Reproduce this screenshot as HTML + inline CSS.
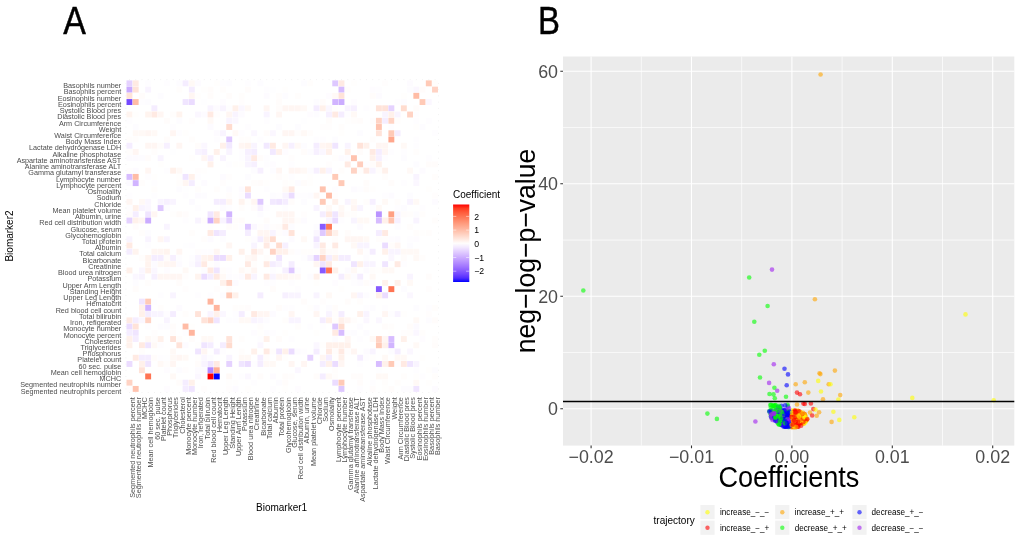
<!DOCTYPE html>
<html lang="en"><head><meta charset="utf-8"><title>Biomarker coefficients</title>
<style>html,body{margin:0;padding:0;background:#fff}body{width:1020px;height:546px;overflow:hidden}svg{display:block}text{font-family:"Liberation Sans",sans-serif}.t{font-size:7.24px;fill:#4d4d4d}.g{fill:#4d4d4d}.k{fill:#000}</style></head><body>
<svg width="1020" height="546" viewBox="0 0 1020 546">
<rect width="1020" height="546" fill="#fff"/>
<g id="panelA">
<text class="k" stroke="#000" stroke-width="0.45" transform="translate(63.3,33.8) scale(0.872,1)" font-size="38.9">A</text>
<g>
<rect x="126.50" y="80.40" width="5.9" height="5.9" fill="#e5d2ff"/>
<rect x="132.74" y="80.40" width="5.9" height="5.9" fill="#ffeae3"/>
<rect x="145.21" y="80.40" width="5.9" height="5.9" fill="#fefdff"/>
<rect x="163.92" y="80.40" width="5.9" height="5.9" fill="#fefdff"/>
<rect x="176.39" y="80.40" width="5.9" height="5.9" fill="#fdfcff"/>
<rect x="182.62" y="80.40" width="5.9" height="5.9" fill="#f5edff"/>
<rect x="188.86" y="80.40" width="5.9" height="5.9" fill="#fff9f6"/>
<rect x="195.10" y="80.40" width="5.9" height="5.9" fill="#fdfbff"/>
<rect x="213.80" y="80.40" width="5.9" height="5.9" fill="#fffefd"/>
<rect x="220.04" y="80.40" width="5.9" height="5.9" fill="#fefdff"/>
<rect x="226.28" y="80.40" width="5.9" height="5.9" fill="#fdfcff"/>
<rect x="244.98" y="80.40" width="5.9" height="5.9" fill="#fefdff"/>
<rect x="257.46" y="80.40" width="5.9" height="5.9" fill="#fdfcff"/>
<rect x="301.11" y="80.40" width="5.9" height="5.9" fill="#fdfcff"/>
<rect x="307.34" y="80.40" width="5.9" height="5.9" fill="#fffdfc"/>
<rect x="332.29" y="80.40" width="5.9" height="5.9" fill="#dec8ff"/>
<rect x="338.52" y="80.40" width="5.9" height="5.9" fill="#ffeae3"/>
<rect x="351.00" y="80.40" width="5.9" height="5.9" fill="#fffefd"/>
<rect x="382.18" y="80.40" width="5.9" height="5.9" fill="#fffdfd"/>
<rect x="407.12" y="80.40" width="5.9" height="5.9" fill="#fdfbff"/>
<rect x="425.83" y="80.40" width="5.9" height="5.9" fill="#ffcab7"/>
<rect x="432.06" y="80.40" width="5.9" height="5.9" fill="#fffdfc"/>
<rect x="126.50" y="86.64" width="5.9" height="5.9" fill="#cbacff"/>
<rect x="132.74" y="86.64" width="5.9" height="5.9" fill="#ffe3d9"/>
<rect x="145.21" y="86.64" width="5.9" height="5.9" fill="#f9f4ff"/>
<rect x="176.39" y="86.64" width="5.9" height="5.9" fill="#fffdfc"/>
<rect x="188.86" y="86.64" width="5.9" height="5.9" fill="#f5edff"/>
<rect x="201.33" y="86.64" width="5.9" height="5.9" fill="#fffefd"/>
<rect x="207.57" y="86.64" width="5.9" height="5.9" fill="#fffcfb"/>
<rect x="220.04" y="86.64" width="5.9" height="5.9" fill="#fffdfc"/>
<rect x="244.98" y="86.64" width="5.9" height="5.9" fill="#fffcfb"/>
<rect x="263.69" y="86.64" width="5.9" height="5.9" fill="#fefdff"/>
<rect x="269.93" y="86.64" width="5.9" height="5.9" fill="#fefeff"/>
<rect x="282.40" y="86.64" width="5.9" height="5.9" fill="#fffefd"/>
<rect x="338.52" y="86.64" width="5.9" height="5.9" fill="#d7bcff"/>
<rect x="344.76" y="86.64" width="5.9" height="5.9" fill="#fffdfc"/>
<rect x="369.70" y="86.64" width="5.9" height="5.9" fill="#fefcff"/>
<rect x="375.94" y="86.64" width="5.9" height="5.9" fill="#fefdff"/>
<rect x="407.12" y="86.64" width="5.9" height="5.9" fill="#fdfcff"/>
<rect x="413.36" y="86.64" width="5.9" height="5.9" fill="#fbf7ff"/>
<rect x="419.59" y="86.64" width="5.9" height="5.9" fill="#fffcfb"/>
<rect x="432.06" y="86.64" width="5.9" height="5.9" fill="#ffd3c4"/>
<rect x="126.50" y="92.87" width="5.9" height="5.9" fill="#ffe3d9"/>
<rect x="138.97" y="92.87" width="5.9" height="5.9" fill="#fffcfb"/>
<rect x="157.68" y="92.87" width="5.9" height="5.9" fill="#fdfcff"/>
<rect x="188.86" y="92.87" width="5.9" height="5.9" fill="#fff6f3"/>
<rect x="195.10" y="92.87" width="5.9" height="5.9" fill="#fffefd"/>
<rect x="207.57" y="92.87" width="5.9" height="5.9" fill="#fffcfb"/>
<rect x="226.28" y="92.87" width="5.9" height="5.9" fill="#fffcfb"/>
<rect x="238.75" y="92.87" width="5.9" height="5.9" fill="#fffdfc"/>
<rect x="263.69" y="92.87" width="5.9" height="5.9" fill="#fdfbff"/>
<rect x="276.16" y="92.87" width="5.9" height="5.9" fill="#fffdfc"/>
<rect x="282.40" y="92.87" width="5.9" height="5.9" fill="#fdfcff"/>
<rect x="294.87" y="92.87" width="5.9" height="5.9" fill="#fffdfc"/>
<rect x="326.05" y="92.87" width="5.9" height="5.9" fill="#fefcff"/>
<rect x="332.29" y="92.87" width="5.9" height="5.9" fill="#fff9f6"/>
<rect x="338.52" y="92.87" width="5.9" height="5.9" fill="#ffe3d9"/>
<rect x="369.70" y="92.87" width="5.9" height="5.9" fill="#fffcfb"/>
<rect x="375.94" y="92.87" width="5.9" height="5.9" fill="#fdfbff"/>
<rect x="400.88" y="92.87" width="5.9" height="5.9" fill="#fffefd"/>
<rect x="413.36" y="92.87" width="5.9" height="5.9" fill="#ffbca6"/>
<rect x="126.50" y="99.11" width="5.9" height="5.9" fill="#7549ff"/>
<rect x="132.74" y="99.11" width="5.9" height="5.9" fill="#ffbca6"/>
<rect x="138.97" y="99.11" width="5.9" height="5.9" fill="#fefdff"/>
<rect x="145.21" y="99.11" width="5.9" height="5.9" fill="#fdfcff"/>
<rect x="182.62" y="99.11" width="5.9" height="5.9" fill="#f0e5ff"/>
<rect x="188.86" y="99.11" width="5.9" height="5.9" fill="#ebdcff"/>
<rect x="201.33" y="99.11" width="5.9" height="5.9" fill="#fefeff"/>
<rect x="220.04" y="99.11" width="5.9" height="5.9" fill="#fefcff"/>
<rect x="238.75" y="99.11" width="5.9" height="5.9" fill="#fffdfd"/>
<rect x="276.16" y="99.11" width="5.9" height="5.9" fill="#fffcfb"/>
<rect x="313.58" y="99.11" width="5.9" height="5.9" fill="#fdfcff"/>
<rect x="319.82" y="99.11" width="5.9" height="5.9" fill="#fffcfb"/>
<rect x="332.29" y="99.11" width="5.9" height="5.9" fill="#d1b4ff"/>
<rect x="338.52" y="99.11" width="5.9" height="5.9" fill="#cbacff"/>
<rect x="351.00" y="99.11" width="5.9" height="5.9" fill="#fefcff"/>
<rect x="394.65" y="99.11" width="5.9" height="5.9" fill="#fefdff"/>
<rect x="400.88" y="99.11" width="5.9" height="5.9" fill="#fdfcff"/>
<rect x="419.59" y="99.11" width="5.9" height="5.9" fill="#ffcab7"/>
<rect x="425.83" y="99.11" width="5.9" height="5.9" fill="#fbf7ff"/>
<rect x="151.44" y="105.34" width="5.9" height="5.9" fill="#f5edff"/>
<rect x="207.57" y="105.34" width="5.9" height="5.9" fill="#f9f4ff"/>
<rect x="213.80" y="105.34" width="5.9" height="5.9" fill="#fdfbff"/>
<rect x="220.04" y="105.34" width="5.9" height="5.9" fill="#f9f4ff"/>
<rect x="226.28" y="105.34" width="5.9" height="5.9" fill="#fefdff"/>
<rect x="232.51" y="105.34" width="5.9" height="5.9" fill="#fff1eb"/>
<rect x="238.75" y="105.34" width="5.9" height="5.9" fill="#fbf7ff"/>
<rect x="244.98" y="105.34" width="5.9" height="5.9" fill="#fff9f6"/>
<rect x="263.69" y="105.34" width="5.9" height="5.9" fill="#fff6f3"/>
<rect x="276.16" y="105.34" width="5.9" height="5.9" fill="#fffcfb"/>
<rect x="282.40" y="105.34" width="5.9" height="5.9" fill="#fff6f3"/>
<rect x="288.64" y="105.34" width="5.9" height="5.9" fill="#fff6f3"/>
<rect x="294.87" y="105.34" width="5.9" height="5.9" fill="#fff6f3"/>
<rect x="301.11" y="105.34" width="5.9" height="5.9" fill="#fff9f6"/>
<rect x="313.58" y="105.34" width="5.9" height="5.9" fill="#f5edff"/>
<rect x="319.82" y="105.34" width="5.9" height="5.9" fill="#fff1eb"/>
<rect x="326.05" y="105.34" width="5.9" height="5.9" fill="#fbf7ff"/>
<rect x="332.29" y="105.34" width="5.9" height="5.9" fill="#fffefd"/>
<rect x="344.76" y="105.34" width="5.9" height="5.9" fill="#f9f4ff"/>
<rect x="351.00" y="105.34" width="5.9" height="5.9" fill="#f7f0ff"/>
<rect x="363.47" y="105.34" width="5.9" height="5.9" fill="#fefdff"/>
<rect x="375.94" y="105.34" width="5.9" height="5.9" fill="#ffe3d9"/>
<rect x="382.18" y="105.34" width="5.9" height="5.9" fill="#ffe3d9"/>
<rect x="388.41" y="105.34" width="5.9" height="5.9" fill="#e5d2ff"/>
<rect x="400.88" y="105.34" width="5.9" height="5.9" fill="#ffdccf"/>
<rect x="413.36" y="105.34" width="5.9" height="5.9" fill="#fffcfb"/>
<rect x="126.50" y="111.58" width="5.9" height="5.9" fill="#fff4ef"/>
<rect x="132.74" y="111.58" width="5.9" height="5.9" fill="#fffefd"/>
<rect x="145.21" y="111.58" width="5.9" height="5.9" fill="#fff4ef"/>
<rect x="151.44" y="111.58" width="5.9" height="5.9" fill="#ffeae3"/>
<rect x="157.68" y="111.58" width="5.9" height="5.9" fill="#fff6f3"/>
<rect x="170.15" y="111.58" width="5.9" height="5.9" fill="#fffdfc"/>
<rect x="176.39" y="111.58" width="5.9" height="5.9" fill="#fff4ef"/>
<rect x="195.10" y="111.58" width="5.9" height="5.9" fill="#fbf7ff"/>
<rect x="201.33" y="111.58" width="5.9" height="5.9" fill="#fdfbff"/>
<rect x="207.57" y="111.58" width="5.9" height="5.9" fill="#ffeae3"/>
<rect x="213.80" y="111.58" width="5.9" height="5.9" fill="#fffdfd"/>
<rect x="226.28" y="111.58" width="5.9" height="5.9" fill="#fff6f3"/>
<rect x="232.51" y="111.58" width="5.9" height="5.9" fill="#f9f4ff"/>
<rect x="238.75" y="111.58" width="5.9" height="5.9" fill="#fdfbff"/>
<rect x="263.69" y="111.58" width="5.9" height="5.9" fill="#f9f4ff"/>
<rect x="276.16" y="111.58" width="5.9" height="5.9" fill="#fff6f3"/>
<rect x="307.34" y="111.58" width="5.9" height="5.9" fill="#fefcff"/>
<rect x="313.58" y="111.58" width="5.9" height="5.9" fill="#fdfcff"/>
<rect x="326.05" y="111.58" width="5.9" height="5.9" fill="#f7f0ff"/>
<rect x="332.29" y="111.58" width="5.9" height="5.9" fill="#ffeae3"/>
<rect x="338.52" y="111.58" width="5.9" height="5.9" fill="#f5edff"/>
<rect x="344.76" y="111.58" width="5.9" height="5.9" fill="#fefdff"/>
<rect x="351.00" y="111.58" width="5.9" height="5.9" fill="#fff9f6"/>
<rect x="382.18" y="111.58" width="5.9" height="5.9" fill="#f9f4ff"/>
<rect x="388.41" y="111.58" width="5.9" height="5.9" fill="#fff1eb"/>
<rect x="394.65" y="111.58" width="5.9" height="5.9" fill="#f9f4ff"/>
<rect x="407.12" y="111.58" width="5.9" height="5.9" fill="#ffd3c4"/>
<rect x="413.36" y="111.58" width="5.9" height="5.9" fill="#fefdff"/>
<rect x="126.50" y="117.82" width="5.9" height="5.9" fill="#fefdff"/>
<rect x="163.92" y="117.82" width="5.9" height="5.9" fill="#fffcfb"/>
<rect x="176.39" y="117.82" width="5.9" height="5.9" fill="#fdfcff"/>
<rect x="188.86" y="117.82" width="5.9" height="5.9" fill="#fffdfd"/>
<rect x="207.57" y="117.82" width="5.9" height="5.9" fill="#fff9f6"/>
<rect x="226.28" y="117.82" width="5.9" height="5.9" fill="#f9f4ff"/>
<rect x="232.51" y="117.82" width="5.9" height="5.9" fill="#fbf7ff"/>
<rect x="263.69" y="117.82" width="5.9" height="5.9" fill="#fefdff"/>
<rect x="301.11" y="117.82" width="5.9" height="5.9" fill="#fefeff"/>
<rect x="326.05" y="117.82" width="5.9" height="5.9" fill="#fffcfb"/>
<rect x="344.76" y="117.82" width="5.9" height="5.9" fill="#fffefd"/>
<rect x="351.00" y="117.82" width="5.9" height="5.9" fill="#fffdfc"/>
<rect x="357.23" y="117.82" width="5.9" height="5.9" fill="#fffcfb"/>
<rect x="369.70" y="117.82" width="5.9" height="5.9" fill="#fffdfd"/>
<rect x="375.94" y="117.82" width="5.9" height="5.9" fill="#ffd3c4"/>
<rect x="382.18" y="117.82" width="5.9" height="5.9" fill="#f5edff"/>
<rect x="388.41" y="117.82" width="5.9" height="5.9" fill="#ffd3c4"/>
<rect x="394.65" y="117.82" width="5.9" height="5.9" fill="#fffdfc"/>
<rect x="413.36" y="117.82" width="5.9" height="5.9" fill="#fefdff"/>
<rect x="425.83" y="117.82" width="5.9" height="5.9" fill="#fefdff"/>
<rect x="132.74" y="124.05" width="5.9" height="5.9" fill="#fdfcff"/>
<rect x="170.15" y="124.05" width="5.9" height="5.9" fill="#fefdff"/>
<rect x="207.57" y="124.05" width="5.9" height="5.9" fill="#fdfbff"/>
<rect x="226.28" y="124.05" width="5.9" height="5.9" fill="#ffdccf"/>
<rect x="244.98" y="124.05" width="5.9" height="5.9" fill="#fefdff"/>
<rect x="276.16" y="124.05" width="5.9" height="5.9" fill="#fdfcff"/>
<rect x="294.87" y="124.05" width="5.9" height="5.9" fill="#fdfcff"/>
<rect x="319.82" y="124.05" width="5.9" height="5.9" fill="#fffdfd"/>
<rect x="326.05" y="124.05" width="5.9" height="5.9" fill="#fffdfd"/>
<rect x="338.52" y="124.05" width="5.9" height="5.9" fill="#fffdfc"/>
<rect x="375.94" y="124.05" width="5.9" height="5.9" fill="#ffc3af"/>
<rect x="388.41" y="124.05" width="5.9" height="5.9" fill="#fefdff"/>
<rect x="413.36" y="124.05" width="5.9" height="5.9" fill="#fffefd"/>
<rect x="419.59" y="124.05" width="5.9" height="5.9" fill="#fdfcff"/>
<rect x="132.74" y="130.29" width="5.9" height="5.9" fill="#fff9f6"/>
<rect x="138.97" y="130.29" width="5.9" height="5.9" fill="#fff9f6"/>
<rect x="145.21" y="130.29" width="5.9" height="5.9" fill="#fff6f3"/>
<rect x="151.44" y="130.29" width="5.9" height="5.9" fill="#fff9f6"/>
<rect x="170.15" y="130.29" width="5.9" height="5.9" fill="#fff6f3"/>
<rect x="176.39" y="130.29" width="5.9" height="5.9" fill="#fefdff"/>
<rect x="182.62" y="130.29" width="5.9" height="5.9" fill="#fffefd"/>
<rect x="213.80" y="130.29" width="5.9" height="5.9" fill="#fdfbff"/>
<rect x="220.04" y="130.29" width="5.9" height="5.9" fill="#f9f4ff"/>
<rect x="232.51" y="130.29" width="5.9" height="5.9" fill="#fff9f6"/>
<rect x="238.75" y="130.29" width="5.9" height="5.9" fill="#fefdff"/>
<rect x="251.22" y="130.29" width="5.9" height="5.9" fill="#fbf7ff"/>
<rect x="263.69" y="130.29" width="5.9" height="5.9" fill="#fffcfb"/>
<rect x="269.93" y="130.29" width="5.9" height="5.9" fill="#fbf7ff"/>
<rect x="282.40" y="130.29" width="5.9" height="5.9" fill="#fff6f3"/>
<rect x="288.64" y="130.29" width="5.9" height="5.9" fill="#fff6f3"/>
<rect x="294.87" y="130.29" width="5.9" height="5.9" fill="#fffdfc"/>
<rect x="301.11" y="130.29" width="5.9" height="5.9" fill="#fff9f6"/>
<rect x="307.34" y="130.29" width="5.9" height="5.9" fill="#fffdfc"/>
<rect x="338.52" y="130.29" width="5.9" height="5.9" fill="#fffefd"/>
<rect x="357.23" y="130.29" width="5.9" height="5.9" fill="#fdfcff"/>
<rect x="375.94" y="130.29" width="5.9" height="5.9" fill="#ffe3d9"/>
<rect x="388.41" y="130.29" width="5.9" height="5.9" fill="#ffcab7"/>
<rect x="394.65" y="130.29" width="5.9" height="5.9" fill="#f5edff"/>
<rect x="432.06" y="130.29" width="5.9" height="5.9" fill="#fefdff"/>
<rect x="126.50" y="136.52" width="5.9" height="5.9" fill="#fffdfc"/>
<rect x="132.74" y="136.52" width="5.9" height="5.9" fill="#fffdfc"/>
<rect x="163.92" y="136.52" width="5.9" height="5.9" fill="#fffcfb"/>
<rect x="188.86" y="136.52" width="5.9" height="5.9" fill="#fffdfc"/>
<rect x="213.80" y="136.52" width="5.9" height="5.9" fill="#fefdff"/>
<rect x="226.28" y="136.52" width="5.9" height="5.9" fill="#dec8ff"/>
<rect x="238.75" y="136.52" width="5.9" height="5.9" fill="#fffdfc"/>
<rect x="244.98" y="136.52" width="5.9" height="5.9" fill="#fffdfc"/>
<rect x="257.46" y="136.52" width="5.9" height="5.9" fill="#fefdff"/>
<rect x="313.58" y="136.52" width="5.9" height="5.9" fill="#fefdff"/>
<rect x="319.82" y="136.52" width="5.9" height="5.9" fill="#fefdff"/>
<rect x="332.29" y="136.52" width="5.9" height="5.9" fill="#fdfcff"/>
<rect x="369.70" y="136.52" width="5.9" height="5.9" fill="#fffdfc"/>
<rect x="388.41" y="136.52" width="5.9" height="5.9" fill="#ffa78d"/>
<rect x="413.36" y="136.52" width="5.9" height="5.9" fill="#fefdff"/>
<rect x="126.50" y="142.76" width="5.9" height="5.9" fill="#f5edff"/>
<rect x="145.21" y="142.76" width="5.9" height="5.9" fill="#fff6f3"/>
<rect x="151.44" y="142.76" width="5.9" height="5.9" fill="#fff6f3"/>
<rect x="157.68" y="142.76" width="5.9" height="5.9" fill="#fffcfb"/>
<rect x="163.92" y="142.76" width="5.9" height="5.9" fill="#f7f0ff"/>
<rect x="176.39" y="142.76" width="5.9" height="5.9" fill="#fff6f3"/>
<rect x="195.10" y="142.76" width="5.9" height="5.9" fill="#fffcfb"/>
<rect x="201.33" y="142.76" width="5.9" height="5.9" fill="#fbf7ff"/>
<rect x="220.04" y="142.76" width="5.9" height="5.9" fill="#fff1eb"/>
<rect x="226.28" y="142.76" width="5.9" height="5.9" fill="#f2e9ff"/>
<rect x="238.75" y="142.76" width="5.9" height="5.9" fill="#fff6f3"/>
<rect x="244.98" y="142.76" width="5.9" height="5.9" fill="#fff4ef"/>
<rect x="251.22" y="142.76" width="5.9" height="5.9" fill="#f9f4ff"/>
<rect x="263.69" y="142.76" width="5.9" height="5.9" fill="#f2e9ff"/>
<rect x="269.93" y="142.76" width="5.9" height="5.9" fill="#ffeae3"/>
<rect x="282.40" y="142.76" width="5.9" height="5.9" fill="#fff6f3"/>
<rect x="288.64" y="142.76" width="5.9" height="5.9" fill="#f7f0ff"/>
<rect x="294.87" y="142.76" width="5.9" height="5.9" fill="#fff9f6"/>
<rect x="301.11" y="142.76" width="5.9" height="5.9" fill="#fdfcff"/>
<rect x="313.58" y="142.76" width="5.9" height="5.9" fill="#f5edff"/>
<rect x="319.82" y="142.76" width="5.9" height="5.9" fill="#fff6f3"/>
<rect x="326.05" y="142.76" width="5.9" height="5.9" fill="#fff4ef"/>
<rect x="332.29" y="142.76" width="5.9" height="5.9" fill="#f0e5ff"/>
<rect x="344.76" y="142.76" width="5.9" height="5.9" fill="#f9f4ff"/>
<rect x="357.23" y="142.76" width="5.9" height="5.9" fill="#ffe3d9"/>
<rect x="363.47" y="142.76" width="5.9" height="5.9" fill="#fff1eb"/>
<rect x="375.94" y="142.76" width="5.9" height="5.9" fill="#fff6f3"/>
<rect x="382.18" y="142.76" width="5.9" height="5.9" fill="#fff6f3"/>
<rect x="400.88" y="142.76" width="5.9" height="5.9" fill="#fff9f6"/>
<rect x="413.36" y="142.76" width="5.9" height="5.9" fill="#fefdff"/>
<rect x="126.50" y="149.00" width="5.9" height="5.9" fill="#fffdfc"/>
<rect x="132.74" y="149.00" width="5.9" height="5.9" fill="#fff6f3"/>
<rect x="151.44" y="149.00" width="5.9" height="5.9" fill="#fffdfc"/>
<rect x="170.15" y="149.00" width="5.9" height="5.9" fill="#fefeff"/>
<rect x="195.10" y="149.00" width="5.9" height="5.9" fill="#f9f4ff"/>
<rect x="201.33" y="149.00" width="5.9" height="5.9" fill="#f7f0ff"/>
<rect x="213.80" y="149.00" width="5.9" height="5.9" fill="#fff1eb"/>
<rect x="226.28" y="149.00" width="5.9" height="5.9" fill="#f9f4ff"/>
<rect x="238.75" y="149.00" width="5.9" height="5.9" fill="#fefdff"/>
<rect x="244.98" y="149.00" width="5.9" height="5.9" fill="#f7f0ff"/>
<rect x="251.22" y="149.00" width="5.9" height="5.9" fill="#f5edff"/>
<rect x="269.93" y="149.00" width="5.9" height="5.9" fill="#f2e9ff"/>
<rect x="276.16" y="149.00" width="5.9" height="5.9" fill="#fff1eb"/>
<rect x="282.40" y="149.00" width="5.9" height="5.9" fill="#fefcff"/>
<rect x="301.11" y="149.00" width="5.9" height="5.9" fill="#fffcfb"/>
<rect x="307.34" y="149.00" width="5.9" height="5.9" fill="#fdfcff"/>
<rect x="313.58" y="149.00" width="5.9" height="5.9" fill="#f7f0ff"/>
<rect x="319.82" y="149.00" width="5.9" height="5.9" fill="#fbf7ff"/>
<rect x="326.05" y="149.00" width="5.9" height="5.9" fill="#fff1eb"/>
<rect x="344.76" y="149.00" width="5.9" height="5.9" fill="#fff1eb"/>
<rect x="357.23" y="149.00" width="5.9" height="5.9" fill="#fffcfb"/>
<rect x="369.70" y="149.00" width="5.9" height="5.9" fill="#ffeae3"/>
<rect x="375.94" y="149.00" width="5.9" height="5.9" fill="#f5edff"/>
<rect x="382.18" y="149.00" width="5.9" height="5.9" fill="#fff6f3"/>
<rect x="388.41" y="149.00" width="5.9" height="5.9" fill="#fefdff"/>
<rect x="400.88" y="149.00" width="5.9" height="5.9" fill="#fefdff"/>
<rect x="413.36" y="149.00" width="5.9" height="5.9" fill="#fffdfc"/>
<rect x="126.50" y="155.23" width="5.9" height="5.9" fill="#fdfbff"/>
<rect x="132.74" y="155.23" width="5.9" height="5.9" fill="#fdfbff"/>
<rect x="138.97" y="155.23" width="5.9" height="5.9" fill="#fdfcff"/>
<rect x="145.21" y="155.23" width="5.9" height="5.9" fill="#fffcfb"/>
<rect x="157.68" y="155.23" width="5.9" height="5.9" fill="#f9f4ff"/>
<rect x="188.86" y="155.23" width="5.9" height="5.9" fill="#fffefd"/>
<rect x="201.33" y="155.23" width="5.9" height="5.9" fill="#fff6f3"/>
<rect x="207.57" y="155.23" width="5.9" height="5.9" fill="#f7f0ff"/>
<rect x="220.04" y="155.23" width="5.9" height="5.9" fill="#f9f4ff"/>
<rect x="238.75" y="155.23" width="5.9" height="5.9" fill="#fefdff"/>
<rect x="244.98" y="155.23" width="5.9" height="5.9" fill="#f9f4ff"/>
<rect x="251.22" y="155.23" width="5.9" height="5.9" fill="#ffeae3"/>
<rect x="257.46" y="155.23" width="5.9" height="5.9" fill="#fffcfb"/>
<rect x="263.69" y="155.23" width="5.9" height="5.9" fill="#fefdff"/>
<rect x="288.64" y="155.23" width="5.9" height="5.9" fill="#fffdfd"/>
<rect x="332.29" y="155.23" width="5.9" height="5.9" fill="#fffefd"/>
<rect x="338.52" y="155.23" width="5.9" height="5.9" fill="#fdfbff"/>
<rect x="344.76" y="155.23" width="5.9" height="5.9" fill="#fdfcff"/>
<rect x="351.00" y="155.23" width="5.9" height="5.9" fill="#ffc3af"/>
<rect x="369.70" y="155.23" width="5.9" height="5.9" fill="#fff1eb"/>
<rect x="375.94" y="155.23" width="5.9" height="5.9" fill="#f7f0ff"/>
<rect x="382.18" y="155.23" width="5.9" height="5.9" fill="#fefdff"/>
<rect x="400.88" y="155.23" width="5.9" height="5.9" fill="#fdfcff"/>
<rect x="425.83" y="155.23" width="5.9" height="5.9" fill="#fefdff"/>
<rect x="157.68" y="161.47" width="5.9" height="5.9" fill="#fffefd"/>
<rect x="207.57" y="161.47" width="5.9" height="5.9" fill="#fff1eb"/>
<rect x="226.28" y="161.47" width="5.9" height="5.9" fill="#fefdff"/>
<rect x="232.51" y="161.47" width="5.9" height="5.9" fill="#fffefd"/>
<rect x="238.75" y="161.47" width="5.9" height="5.9" fill="#fffefd"/>
<rect x="244.98" y="161.47" width="5.9" height="5.9" fill="#f9f4ff"/>
<rect x="251.22" y="161.47" width="5.9" height="5.9" fill="#f7f0ff"/>
<rect x="263.69" y="161.47" width="5.9" height="5.9" fill="#fefdff"/>
<rect x="269.93" y="161.47" width="5.9" height="5.9" fill="#fefcff"/>
<rect x="288.64" y="161.47" width="5.9" height="5.9" fill="#fefdff"/>
<rect x="326.05" y="161.47" width="5.9" height="5.9" fill="#fffdfd"/>
<rect x="344.76" y="161.47" width="5.9" height="5.9" fill="#ffeae3"/>
<rect x="357.23" y="161.47" width="5.9" height="5.9" fill="#ffcebe"/>
<rect x="363.47" y="161.47" width="5.9" height="5.9" fill="#fefdff"/>
<rect x="369.70" y="161.47" width="5.9" height="5.9" fill="#fffcfb"/>
<rect x="375.94" y="161.47" width="5.9" height="5.9" fill="#fff1eb"/>
<rect x="413.36" y="161.47" width="5.9" height="5.9" fill="#fdfcff"/>
<rect x="425.83" y="161.47" width="5.9" height="5.9" fill="#fffcfb"/>
<rect x="432.06" y="161.47" width="5.9" height="5.9" fill="#fffcfb"/>
<rect x="126.50" y="167.70" width="5.9" height="5.9" fill="#fffdfd"/>
<rect x="132.74" y="167.70" width="5.9" height="5.9" fill="#fdfbff"/>
<rect x="145.21" y="167.70" width="5.9" height="5.9" fill="#fff6f3"/>
<rect x="163.92" y="167.70" width="5.9" height="5.9" fill="#fefdff"/>
<rect x="170.15" y="167.70" width="5.9" height="5.9" fill="#fff1eb"/>
<rect x="176.39" y="167.70" width="5.9" height="5.9" fill="#fff9f6"/>
<rect x="195.10" y="167.70" width="5.9" height="5.9" fill="#fffdfd"/>
<rect x="201.33" y="167.70" width="5.9" height="5.9" fill="#fffefd"/>
<rect x="251.22" y="167.70" width="5.9" height="5.9" fill="#fdfcff"/>
<rect x="257.46" y="167.70" width="5.9" height="5.9" fill="#f7f0ff"/>
<rect x="269.93" y="167.70" width="5.9" height="5.9" fill="#fdfcff"/>
<rect x="276.16" y="167.70" width="5.9" height="5.9" fill="#fff6f3"/>
<rect x="288.64" y="167.70" width="5.9" height="5.9" fill="#fff6f3"/>
<rect x="294.87" y="167.70" width="5.9" height="5.9" fill="#fff6f3"/>
<rect x="301.11" y="167.70" width="5.9" height="5.9" fill="#fff9f6"/>
<rect x="307.34" y="167.70" width="5.9" height="5.9" fill="#fdfcff"/>
<rect x="313.58" y="167.70" width="5.9" height="5.9" fill="#f7f0ff"/>
<rect x="319.82" y="167.70" width="5.9" height="5.9" fill="#fff1eb"/>
<rect x="326.05" y="167.70" width="5.9" height="5.9" fill="#f9f4ff"/>
<rect x="338.52" y="167.70" width="5.9" height="5.9" fill="#fffdfc"/>
<rect x="351.00" y="167.70" width="5.9" height="5.9" fill="#ffd3c4"/>
<rect x="357.23" y="167.70" width="5.9" height="5.9" fill="#fffdfc"/>
<rect x="363.47" y="167.70" width="5.9" height="5.9" fill="#ffeae3"/>
<rect x="369.70" y="167.70" width="5.9" height="5.9" fill="#f9f4ff"/>
<rect x="375.94" y="167.70" width="5.9" height="5.9" fill="#fffdfc"/>
<rect x="382.18" y="167.70" width="5.9" height="5.9" fill="#fff1eb"/>
<rect x="407.12" y="167.70" width="5.9" height="5.9" fill="#fff9f6"/>
<rect x="419.59" y="167.70" width="5.9" height="5.9" fill="#fdfbff"/>
<rect x="126.50" y="173.94" width="5.9" height="5.9" fill="#d7bcff"/>
<rect x="132.74" y="173.94" width="5.9" height="5.9" fill="#ffbca6"/>
<rect x="145.21" y="173.94" width="5.9" height="5.9" fill="#fefdff"/>
<rect x="151.44" y="173.94" width="5.9" height="5.9" fill="#fffefd"/>
<rect x="176.39" y="173.94" width="5.9" height="5.9" fill="#fffefd"/>
<rect x="182.62" y="173.94" width="5.9" height="5.9" fill="#f0e5ff"/>
<rect x="188.86" y="173.94" width="5.9" height="5.9" fill="#fff1eb"/>
<rect x="195.10" y="173.94" width="5.9" height="5.9" fill="#fefdff"/>
<rect x="220.04" y="173.94" width="5.9" height="5.9" fill="#fdfbff"/>
<rect x="226.28" y="173.94" width="5.9" height="5.9" fill="#fffdfd"/>
<rect x="244.98" y="173.94" width="5.9" height="5.9" fill="#fdfcff"/>
<rect x="269.93" y="173.94" width="5.9" height="5.9" fill="#fffefd"/>
<rect x="276.16" y="173.94" width="5.9" height="5.9" fill="#fffcfb"/>
<rect x="282.40" y="173.94" width="5.9" height="5.9" fill="#fffefd"/>
<rect x="288.64" y="173.94" width="5.9" height="5.9" fill="#fefdff"/>
<rect x="307.34" y="173.94" width="5.9" height="5.9" fill="#fffefd"/>
<rect x="332.29" y="173.94" width="5.9" height="5.9" fill="#ffcab7"/>
<rect x="382.18" y="173.94" width="5.9" height="5.9" fill="#fffdfc"/>
<rect x="413.36" y="173.94" width="5.9" height="5.9" fill="#f9f4ff"/>
<rect x="432.06" y="173.94" width="5.9" height="5.9" fill="#fffdfc"/>
<rect x="126.50" y="180.18" width="5.9" height="5.9" fill="#fcfaff"/>
<rect x="132.74" y="180.18" width="5.9" height="5.9" fill="#d1b4ff"/>
<rect x="138.97" y="180.18" width="5.9" height="5.9" fill="#fffdfc"/>
<rect x="151.44" y="180.18" width="5.9" height="5.9" fill="#fefdff"/>
<rect x="176.39" y="180.18" width="5.9" height="5.9" fill="#fffdfc"/>
<rect x="182.62" y="180.18" width="5.9" height="5.9" fill="#fff6f3"/>
<rect x="188.86" y="180.18" width="5.9" height="5.9" fill="#f5edff"/>
<rect x="201.33" y="180.18" width="5.9" height="5.9" fill="#fdfbff"/>
<rect x="220.04" y="180.18" width="5.9" height="5.9" fill="#fffdfd"/>
<rect x="251.22" y="180.18" width="5.9" height="5.9" fill="#fffdfc"/>
<rect x="257.46" y="180.18" width="5.9" height="5.9" fill="#fffcfb"/>
<rect x="263.69" y="180.18" width="5.9" height="5.9" fill="#fffefd"/>
<rect x="282.40" y="180.18" width="5.9" height="5.9" fill="#fffdfc"/>
<rect x="288.64" y="180.18" width="5.9" height="5.9" fill="#fffefd"/>
<rect x="294.87" y="180.18" width="5.9" height="5.9" fill="#fdfcff"/>
<rect x="301.11" y="180.18" width="5.9" height="5.9" fill="#fffcfb"/>
<rect x="307.34" y="180.18" width="5.9" height="5.9" fill="#fffefd"/>
<rect x="338.52" y="180.18" width="5.9" height="5.9" fill="#ffcab7"/>
<rect x="363.47" y="180.18" width="5.9" height="5.9" fill="#fffcfb"/>
<rect x="388.41" y="180.18" width="5.9" height="5.9" fill="#fffcfb"/>
<rect x="400.88" y="180.18" width="5.9" height="5.9" fill="#fefdff"/>
<rect x="413.36" y="180.18" width="5.9" height="5.9" fill="#fbf7ff"/>
<rect x="151.44" y="186.41" width="5.9" height="5.9" fill="#fffdfc"/>
<rect x="176.39" y="186.41" width="5.9" height="5.9" fill="#fdfcff"/>
<rect x="182.62" y="186.41" width="5.9" height="5.9" fill="#fefeff"/>
<rect x="195.10" y="186.41" width="5.9" height="5.9" fill="#fffdfc"/>
<rect x="213.80" y="186.41" width="5.9" height="5.9" fill="#fffdfc"/>
<rect x="226.28" y="186.41" width="5.9" height="5.9" fill="#fdfcff"/>
<rect x="238.75" y="186.41" width="5.9" height="5.9" fill="#fdfbff"/>
<rect x="244.98" y="186.41" width="5.9" height="5.9" fill="#ffe3d9"/>
<rect x="263.69" y="186.41" width="5.9" height="5.9" fill="#fefdff"/>
<rect x="282.40" y="186.41" width="5.9" height="5.9" fill="#fff9f6"/>
<rect x="288.64" y="186.41" width="5.9" height="5.9" fill="#ffeae3"/>
<rect x="319.82" y="186.41" width="5.9" height="5.9" fill="#ffc3af"/>
<rect x="332.29" y="186.41" width="5.9" height="5.9" fill="#fefdff"/>
<rect x="351.00" y="186.41" width="5.9" height="5.9" fill="#fdfbff"/>
<rect x="357.23" y="186.41" width="5.9" height="5.9" fill="#fefdff"/>
<rect x="363.47" y="186.41" width="5.9" height="5.9" fill="#fffcfb"/>
<rect x="369.70" y="186.41" width="5.9" height="5.9" fill="#fffefd"/>
<rect x="425.83" y="186.41" width="5.9" height="5.9" fill="#fffefd"/>
<rect x="126.50" y="192.65" width="5.9" height="5.9" fill="#fefdff"/>
<rect x="151.44" y="192.65" width="5.9" height="5.9" fill="#fefdff"/>
<rect x="182.62" y="192.65" width="5.9" height="5.9" fill="#fefdff"/>
<rect x="195.10" y="192.65" width="5.9" height="5.9" fill="#fdfbff"/>
<rect x="201.33" y="192.65" width="5.9" height="5.9" fill="#fdfcff"/>
<rect x="226.28" y="192.65" width="5.9" height="5.9" fill="#fffdfc"/>
<rect x="238.75" y="192.65" width="5.9" height="5.9" fill="#fefcff"/>
<rect x="244.98" y="192.65" width="5.9" height="5.9" fill="#ebdcff"/>
<rect x="269.93" y="192.65" width="5.9" height="5.9" fill="#fdfcff"/>
<rect x="276.16" y="192.65" width="5.9" height="5.9" fill="#fefdff"/>
<rect x="282.40" y="192.65" width="5.9" height="5.9" fill="#f9f4ff"/>
<rect x="288.64" y="192.65" width="5.9" height="5.9" fill="#ebdcff"/>
<rect x="294.87" y="192.65" width="5.9" height="5.9" fill="#fefdff"/>
<rect x="301.11" y="192.65" width="5.9" height="5.9" fill="#fefdff"/>
<rect x="307.34" y="192.65" width="5.9" height="5.9" fill="#fdfcff"/>
<rect x="313.58" y="192.65" width="5.9" height="5.9" fill="#fff6f3"/>
<rect x="326.05" y="192.65" width="5.9" height="5.9" fill="#ffbca6"/>
<rect x="332.29" y="192.65" width="5.9" height="5.9" fill="#fffdfd"/>
<rect x="382.18" y="192.65" width="5.9" height="5.9" fill="#fefdff"/>
<rect x="388.41" y="192.65" width="5.9" height="5.9" fill="#fdfbff"/>
<rect x="407.12" y="192.65" width="5.9" height="5.9" fill="#fdfcff"/>
<rect x="432.06" y="192.65" width="5.9" height="5.9" fill="#fffdfd"/>
<rect x="126.50" y="198.88" width="5.9" height="5.9" fill="#fff6f3"/>
<rect x="138.97" y="198.88" width="5.9" height="5.9" fill="#fff9f6"/>
<rect x="145.21" y="198.88" width="5.9" height="5.9" fill="#fbf7ff"/>
<rect x="157.68" y="198.88" width="5.9" height="5.9" fill="#f9f4ff"/>
<rect x="163.92" y="198.88" width="5.9" height="5.9" fill="#f7f0ff"/>
<rect x="170.15" y="198.88" width="5.9" height="5.9" fill="#f9f4ff"/>
<rect x="188.86" y="198.88" width="5.9" height="5.9" fill="#fcfaff"/>
<rect x="213.80" y="198.88" width="5.9" height="5.9" fill="#f5edff"/>
<rect x="220.04" y="198.88" width="5.9" height="5.9" fill="#f5edff"/>
<rect x="226.28" y="198.88" width="5.9" height="5.9" fill="#fff6f3"/>
<rect x="238.75" y="198.88" width="5.9" height="5.9" fill="#fff4ef"/>
<rect x="244.98" y="198.88" width="5.9" height="5.9" fill="#fffefd"/>
<rect x="251.22" y="198.88" width="5.9" height="5.9" fill="#fff6f3"/>
<rect x="257.46" y="198.88" width="5.9" height="5.9" fill="#dec8ff"/>
<rect x="269.93" y="198.88" width="5.9" height="5.9" fill="#f2e9ff"/>
<rect x="276.16" y="198.88" width="5.9" height="5.9" fill="#f0e5ff"/>
<rect x="282.40" y="198.88" width="5.9" height="5.9" fill="#f5edff"/>
<rect x="288.64" y="198.88" width="5.9" height="5.9" fill="#fffcfb"/>
<rect x="301.11" y="198.88" width="5.9" height="5.9" fill="#fdfcff"/>
<rect x="319.82" y="198.88" width="5.9" height="5.9" fill="#ffcab7"/>
<rect x="332.29" y="198.88" width="5.9" height="5.9" fill="#fff1eb"/>
<rect x="344.76" y="198.88" width="5.9" height="5.9" fill="#f9f4ff"/>
<rect x="351.00" y="198.88" width="5.9" height="5.9" fill="#fff9f6"/>
<rect x="363.47" y="198.88" width="5.9" height="5.9" fill="#fffdfc"/>
<rect x="369.70" y="198.88" width="5.9" height="5.9" fill="#f7f0ff"/>
<rect x="382.18" y="198.88" width="5.9" height="5.9" fill="#fff9f6"/>
<rect x="394.65" y="198.88" width="5.9" height="5.9" fill="#fffdfc"/>
<rect x="407.12" y="198.88" width="5.9" height="5.9" fill="#f9f4ff"/>
<rect x="413.36" y="198.88" width="5.9" height="5.9" fill="#fff9f6"/>
<rect x="432.06" y="198.88" width="5.9" height="5.9" fill="#fdfbff"/>
<rect x="126.50" y="205.12" width="5.9" height="5.9" fill="#fefdff"/>
<rect x="132.74" y="205.12" width="5.9" height="5.9" fill="#fff1eb"/>
<rect x="138.97" y="205.12" width="5.9" height="5.9" fill="#f9f4ff"/>
<rect x="145.21" y="205.12" width="5.9" height="5.9" fill="#fbf7ff"/>
<rect x="157.68" y="205.12" width="5.9" height="5.9" fill="#dec8ff"/>
<rect x="163.92" y="205.12" width="5.9" height="5.9" fill="#fdfcff"/>
<rect x="195.10" y="205.12" width="5.9" height="5.9" fill="#fefdff"/>
<rect x="220.04" y="205.12" width="5.9" height="5.9" fill="#fdfbff"/>
<rect x="226.28" y="205.12" width="5.9" height="5.9" fill="#fefdff"/>
<rect x="238.75" y="205.12" width="5.9" height="5.9" fill="#fffdfc"/>
<rect x="251.22" y="205.12" width="5.9" height="5.9" fill="#fffcfc"/>
<rect x="257.46" y="205.12" width="5.9" height="5.9" fill="#f7f0ff"/>
<rect x="263.69" y="205.12" width="5.9" height="5.9" fill="#fefdff"/>
<rect x="282.40" y="205.12" width="5.9" height="5.9" fill="#fefdff"/>
<rect x="313.58" y="205.12" width="5.9" height="5.9" fill="#f9f4ff"/>
<rect x="326.05" y="205.12" width="5.9" height="5.9" fill="#fff9f6"/>
<rect x="338.52" y="205.12" width="5.9" height="5.9" fill="#fff9f6"/>
<rect x="351.00" y="205.12" width="5.9" height="5.9" fill="#fff6f3"/>
<rect x="357.23" y="205.12" width="5.9" height="5.9" fill="#f9f4ff"/>
<rect x="369.70" y="205.12" width="5.9" height="5.9" fill="#fefdff"/>
<rect x="375.94" y="205.12" width="5.9" height="5.9" fill="#fff9f6"/>
<rect x="394.65" y="205.12" width="5.9" height="5.9" fill="#fefdff"/>
<rect x="400.88" y="205.12" width="5.9" height="5.9" fill="#fdfcff"/>
<rect x="419.59" y="205.12" width="5.9" height="5.9" fill="#fefdff"/>
<rect x="126.50" y="211.36" width="5.9" height="5.9" fill="#fffcfc"/>
<rect x="132.74" y="211.36" width="5.9" height="5.9" fill="#f5edff"/>
<rect x="145.21" y="211.36" width="5.9" height="5.9" fill="#f0e5ff"/>
<rect x="151.44" y="211.36" width="5.9" height="5.9" fill="#fff6f3"/>
<rect x="170.15" y="211.36" width="5.9" height="5.9" fill="#fffefd"/>
<rect x="176.39" y="211.36" width="5.9" height="5.9" fill="#fffbf9"/>
<rect x="182.62" y="211.36" width="5.9" height="5.9" fill="#fffcfc"/>
<rect x="207.57" y="211.36" width="5.9" height="5.9" fill="#f0e5ff"/>
<rect x="213.80" y="211.36" width="5.9" height="5.9" fill="#ffeae3"/>
<rect x="226.28" y="211.36" width="5.9" height="5.9" fill="#d1b4ff"/>
<rect x="257.46" y="211.36" width="5.9" height="5.9" fill="#fdfcff"/>
<rect x="276.16" y="211.36" width="5.9" height="5.9" fill="#fff6f3"/>
<rect x="282.40" y="211.36" width="5.9" height="5.9" fill="#fff6f3"/>
<rect x="288.64" y="211.36" width="5.9" height="5.9" fill="#fff6f3"/>
<rect x="301.11" y="211.36" width="5.9" height="5.9" fill="#fffdfd"/>
<rect x="319.82" y="211.36" width="5.9" height="5.9" fill="#f5edff"/>
<rect x="326.05" y="211.36" width="5.9" height="5.9" fill="#ffeae3"/>
<rect x="332.29" y="211.36" width="5.9" height="5.9" fill="#f0e5ff"/>
<rect x="338.52" y="211.36" width="5.9" height="5.9" fill="#fff6f3"/>
<rect x="344.76" y="211.36" width="5.9" height="5.9" fill="#fffdfc"/>
<rect x="351.00" y="211.36" width="5.9" height="5.9" fill="#fffdfc"/>
<rect x="375.94" y="211.36" width="5.9" height="5.9" fill="#b993ff"/>
<rect x="388.41" y="211.36" width="5.9" height="5.9" fill="#ffa084"/>
<rect x="394.65" y="211.36" width="5.9" height="5.9" fill="#f9f4ff"/>
<rect x="400.88" y="211.36" width="5.9" height="5.9" fill="#fffcfb"/>
<rect x="407.12" y="211.36" width="5.9" height="5.9" fill="#fffdfc"/>
<rect x="413.36" y="211.36" width="5.9" height="5.9" fill="#fdfcff"/>
<rect x="419.59" y="211.36" width="5.9" height="5.9" fill="#fffdfc"/>
<rect x="126.50" y="217.59" width="5.9" height="5.9" fill="#e5d2ff"/>
<rect x="132.74" y="217.59" width="5.9" height="5.9" fill="#fff1eb"/>
<rect x="138.97" y="217.59" width="5.9" height="5.9" fill="#fff6f3"/>
<rect x="145.21" y="217.59" width="5.9" height="5.9" fill="#cbacff"/>
<rect x="182.62" y="217.59" width="5.9" height="5.9" fill="#fefdff"/>
<rect x="195.10" y="217.59" width="5.9" height="5.9" fill="#f9f4ff"/>
<rect x="201.33" y="217.59" width="5.9" height="5.9" fill="#fffdfc"/>
<rect x="207.57" y="217.59" width="5.9" height="5.9" fill="#cbacff"/>
<rect x="213.80" y="217.59" width="5.9" height="5.9" fill="#ffd3c4"/>
<rect x="220.04" y="217.59" width="5.9" height="5.9" fill="#f9f4ff"/>
<rect x="226.28" y="217.59" width="5.9" height="5.9" fill="#e5d2ff"/>
<rect x="232.51" y="217.59" width="5.9" height="5.9" fill="#fffdfc"/>
<rect x="238.75" y="217.59" width="5.9" height="5.9" fill="#fffcfb"/>
<rect x="263.69" y="217.59" width="5.9" height="5.9" fill="#fffcfb"/>
<rect x="282.40" y="217.59" width="5.9" height="5.9" fill="#fff6f3"/>
<rect x="288.64" y="217.59" width="5.9" height="5.9" fill="#fff6f3"/>
<rect x="294.87" y="217.59" width="5.9" height="5.9" fill="#fffdfc"/>
<rect x="301.11" y="217.59" width="5.9" height="5.9" fill="#fdfbff"/>
<rect x="326.05" y="217.59" width="5.9" height="5.9" fill="#f9f4ff"/>
<rect x="332.29" y="217.59" width="5.9" height="5.9" fill="#ebdcff"/>
<rect x="338.52" y="217.59" width="5.9" height="5.9" fill="#fefdff"/>
<rect x="351.00" y="217.59" width="5.9" height="5.9" fill="#f9f4ff"/>
<rect x="357.23" y="217.59" width="5.9" height="5.9" fill="#fff9f6"/>
<rect x="363.47" y="217.59" width="5.9" height="5.9" fill="#fff9f6"/>
<rect x="375.94" y="217.59" width="5.9" height="5.9" fill="#d7bcff"/>
<rect x="382.18" y="217.59" width="5.9" height="5.9" fill="#fff1eb"/>
<rect x="388.41" y="217.59" width="5.9" height="5.9" fill="#ffc3af"/>
<rect x="394.65" y="217.59" width="5.9" height="5.9" fill="#f7f0ff"/>
<rect x="413.36" y="217.59" width="5.9" height="5.9" fill="#f9f4ff"/>
<rect x="432.06" y="217.59" width="5.9" height="5.9" fill="#fffdfc"/>
<rect x="132.74" y="223.83" width="5.9" height="5.9" fill="#fffcfc"/>
<rect x="163.92" y="223.83" width="5.9" height="5.9" fill="#f9f4ff"/>
<rect x="207.57" y="223.83" width="5.9" height="5.9" fill="#fffefd"/>
<rect x="226.28" y="223.83" width="5.9" height="5.9" fill="#fffcfb"/>
<rect x="232.51" y="223.83" width="5.9" height="5.9" fill="#fffdfc"/>
<rect x="238.75" y="223.83" width="5.9" height="5.9" fill="#fefdff"/>
<rect x="244.98" y="223.83" width="5.9" height="5.9" fill="#dec8ff"/>
<rect x="251.22" y="223.83" width="5.9" height="5.9" fill="#fbf7ff"/>
<rect x="257.46" y="223.83" width="5.9" height="5.9" fill="#fffdfd"/>
<rect x="263.69" y="223.83" width="5.9" height="5.9" fill="#fdfbff"/>
<rect x="269.93" y="223.83" width="5.9" height="5.9" fill="#fffdfd"/>
<rect x="276.16" y="223.83" width="5.9" height="5.9" fill="#fffcfb"/>
<rect x="282.40" y="223.83" width="5.9" height="5.9" fill="#ffeae3"/>
<rect x="288.64" y="223.83" width="5.9" height="5.9" fill="#fdfcff"/>
<rect x="313.58" y="223.83" width="5.9" height="5.9" fill="#fdfcff"/>
<rect x="319.82" y="223.83" width="5.9" height="5.9" fill="#875aff"/>
<rect x="326.05" y="223.83" width="5.9" height="5.9" fill="#ff7857"/>
<rect x="357.23" y="223.83" width="5.9" height="5.9" fill="#fdfbff"/>
<rect x="394.65" y="223.83" width="5.9" height="5.9" fill="#fdfcff"/>
<rect x="407.12" y="223.83" width="5.9" height="5.9" fill="#fffdfc"/>
<rect x="138.97" y="230.06" width="5.9" height="5.9" fill="#fffdfc"/>
<rect x="145.21" y="230.06" width="5.9" height="5.9" fill="#fdfcff"/>
<rect x="188.86" y="230.06" width="5.9" height="5.9" fill="#fffdfc"/>
<rect x="207.57" y="230.06" width="5.9" height="5.9" fill="#ffeae3"/>
<rect x="213.80" y="230.06" width="5.9" height="5.9" fill="#f0e5ff"/>
<rect x="220.04" y="230.06" width="5.9" height="5.9" fill="#f5edff"/>
<rect x="244.98" y="230.06" width="5.9" height="5.9" fill="#f5edff"/>
<rect x="257.46" y="230.06" width="5.9" height="5.9" fill="#fff6f3"/>
<rect x="263.69" y="230.06" width="5.9" height="5.9" fill="#fff6f3"/>
<rect x="269.93" y="230.06" width="5.9" height="5.9" fill="#f9f4ff"/>
<rect x="276.16" y="230.06" width="5.9" height="5.9" fill="#fffdfd"/>
<rect x="282.40" y="230.06" width="5.9" height="5.9" fill="#fdfbff"/>
<rect x="288.64" y="230.06" width="5.9" height="5.9" fill="#ffe3d9"/>
<rect x="313.58" y="230.06" width="5.9" height="5.9" fill="#fbf7ff"/>
<rect x="319.82" y="230.06" width="5.9" height="5.9" fill="#dec8ff"/>
<rect x="326.05" y="230.06" width="5.9" height="5.9" fill="#ffd3c4"/>
<rect x="332.29" y="230.06" width="5.9" height="5.9" fill="#fff1eb"/>
<rect x="344.76" y="230.06" width="5.9" height="5.9" fill="#fffcfb"/>
<rect x="375.94" y="230.06" width="5.9" height="5.9" fill="#f5edff"/>
<rect x="382.18" y="230.06" width="5.9" height="5.9" fill="#ffeae3"/>
<rect x="413.36" y="230.06" width="5.9" height="5.9" fill="#fffdfc"/>
<rect x="419.59" y="230.06" width="5.9" height="5.9" fill="#fffefd"/>
<rect x="425.83" y="230.06" width="5.9" height="5.9" fill="#fffdfc"/>
<rect x="126.50" y="236.30" width="5.9" height="5.9" fill="#f9f4ff"/>
<rect x="145.21" y="236.30" width="5.9" height="5.9" fill="#f9f4ff"/>
<rect x="157.68" y="236.30" width="5.9" height="5.9" fill="#fff6f3"/>
<rect x="163.92" y="236.30" width="5.9" height="5.9" fill="#f9f4ff"/>
<rect x="201.33" y="236.30" width="5.9" height="5.9" fill="#fffdfc"/>
<rect x="207.57" y="236.30" width="5.9" height="5.9" fill="#fdfbff"/>
<rect x="220.04" y="236.30" width="5.9" height="5.9" fill="#fefdff"/>
<rect x="244.98" y="236.30" width="5.9" height="5.9" fill="#fffefd"/>
<rect x="251.22" y="236.30" width="5.9" height="5.9" fill="#fefcff"/>
<rect x="257.46" y="236.30" width="5.9" height="5.9" fill="#f5edff"/>
<rect x="263.69" y="236.30" width="5.9" height="5.9" fill="#fff1eb"/>
<rect x="269.93" y="236.30" width="5.9" height="5.9" fill="#ffdccf"/>
<rect x="288.64" y="236.30" width="5.9" height="5.9" fill="#fdfbff"/>
<rect x="301.11" y="236.30" width="5.9" height="5.9" fill="#fff9f6"/>
<rect x="313.58" y="236.30" width="5.9" height="5.9" fill="#f0e5ff"/>
<rect x="332.29" y="236.30" width="5.9" height="5.9" fill="#fffdfc"/>
<rect x="344.76" y="236.30" width="5.9" height="5.9" fill="#fff6f3"/>
<rect x="351.00" y="236.30" width="5.9" height="5.9" fill="#fff6f3"/>
<rect x="357.23" y="236.30" width="5.9" height="5.9" fill="#fff6f3"/>
<rect x="363.47" y="236.30" width="5.9" height="5.9" fill="#fff9f6"/>
<rect x="375.94" y="236.30" width="5.9" height="5.9" fill="#fffdfc"/>
<rect x="382.18" y="236.30" width="5.9" height="5.9" fill="#fffdfd"/>
<rect x="388.41" y="236.30" width="5.9" height="5.9" fill="#fefcff"/>
<rect x="394.65" y="236.30" width="5.9" height="5.9" fill="#fdfbff"/>
<rect x="407.12" y="236.30" width="5.9" height="5.9" fill="#fefdff"/>
<rect x="413.36" y="236.30" width="5.9" height="5.9" fill="#fefcff"/>
<rect x="126.50" y="242.54" width="5.9" height="5.9" fill="#ffeae3"/>
<rect x="145.21" y="242.54" width="5.9" height="5.9" fill="#fefdff"/>
<rect x="182.62" y="242.54" width="5.9" height="5.9" fill="#fefeff"/>
<rect x="188.86" y="242.54" width="5.9" height="5.9" fill="#fefdff"/>
<rect x="226.28" y="242.54" width="5.9" height="5.9" fill="#fff6f3"/>
<rect x="251.22" y="242.54" width="5.9" height="5.9" fill="#f9f4ff"/>
<rect x="263.69" y="242.54" width="5.9" height="5.9" fill="#ffeae3"/>
<rect x="269.93" y="242.54" width="5.9" height="5.9" fill="#fefdff"/>
<rect x="276.16" y="242.54" width="5.9" height="5.9" fill="#ffdccf"/>
<rect x="282.40" y="242.54" width="5.9" height="5.9" fill="#f7f0ff"/>
<rect x="313.58" y="242.54" width="5.9" height="5.9" fill="#f9f4ff"/>
<rect x="319.82" y="242.54" width="5.9" height="5.9" fill="#ffeae3"/>
<rect x="332.29" y="242.54" width="5.9" height="5.9" fill="#ffeae3"/>
<rect x="351.00" y="242.54" width="5.9" height="5.9" fill="#fff9f6"/>
<rect x="357.23" y="242.54" width="5.9" height="5.9" fill="#f9f4ff"/>
<rect x="363.47" y="242.54" width="5.9" height="5.9" fill="#f9f4ff"/>
<rect x="382.18" y="242.54" width="5.9" height="5.9" fill="#ebdcff"/>
<rect x="388.41" y="242.54" width="5.9" height="5.9" fill="#fffcfb"/>
<rect x="394.65" y="242.54" width="5.9" height="5.9" fill="#fff6f3"/>
<rect x="407.12" y="242.54" width="5.9" height="5.9" fill="#fdfcff"/>
<rect x="126.50" y="248.77" width="5.9" height="5.9" fill="#f5edff"/>
<rect x="132.74" y="248.77" width="5.9" height="5.9" fill="#fff4ef"/>
<rect x="151.44" y="248.77" width="5.9" height="5.9" fill="#fff6f3"/>
<rect x="157.68" y="248.77" width="5.9" height="5.9" fill="#fff6f3"/>
<rect x="163.92" y="248.77" width="5.9" height="5.9" fill="#fff4ef"/>
<rect x="176.39" y="248.77" width="5.9" height="5.9" fill="#fff6f3"/>
<rect x="195.10" y="248.77" width="5.9" height="5.9" fill="#fffdfd"/>
<rect x="201.33" y="248.77" width="5.9" height="5.9" fill="#fefdff"/>
<rect x="207.57" y="248.77" width="5.9" height="5.9" fill="#fefdff"/>
<rect x="213.80" y="248.77" width="5.9" height="5.9" fill="#fff6f3"/>
<rect x="238.75" y="248.77" width="5.9" height="5.9" fill="#fff1eb"/>
<rect x="251.22" y="248.77" width="5.9" height="5.9" fill="#ffeae3"/>
<rect x="257.46" y="248.77" width="5.9" height="5.9" fill="#fff6f3"/>
<rect x="269.93" y="248.77" width="5.9" height="5.9" fill="#ffd3c4"/>
<rect x="276.16" y="248.77" width="5.9" height="5.9" fill="#fff1eb"/>
<rect x="282.40" y="248.77" width="5.9" height="5.9" fill="#fff1eb"/>
<rect x="288.64" y="248.77" width="5.9" height="5.9" fill="#fffcfb"/>
<rect x="294.87" y="248.77" width="5.9" height="5.9" fill="#fefdff"/>
<rect x="301.11" y="248.77" width="5.9" height="5.9" fill="#fffdfc"/>
<rect x="307.34" y="248.77" width="5.9" height="5.9" fill="#fffdfc"/>
<rect x="313.58" y="248.77" width="5.9" height="5.9" fill="#fffdfc"/>
<rect x="319.82" y="248.77" width="5.9" height="5.9" fill="#fff1eb"/>
<rect x="326.05" y="248.77" width="5.9" height="5.9" fill="#fffcfb"/>
<rect x="332.29" y="248.77" width="5.9" height="5.9" fill="#fffcfb"/>
<rect x="357.23" y="248.77" width="5.9" height="5.9" fill="#fff6f3"/>
<rect x="363.47" y="248.77" width="5.9" height="5.9" fill="#fefdff"/>
<rect x="369.70" y="248.77" width="5.9" height="5.9" fill="#f5edff"/>
<rect x="382.18" y="248.77" width="5.9" height="5.9" fill="#fff1eb"/>
<rect x="388.41" y="248.77" width="5.9" height="5.9" fill="#f9f4ff"/>
<rect x="394.65" y="248.77" width="5.9" height="5.9" fill="#f9f4ff"/>
<rect x="400.88" y="248.77" width="5.9" height="5.9" fill="#fff9f6"/>
<rect x="407.12" y="248.77" width="5.9" height="5.9" fill="#fff9f6"/>
<rect x="413.36" y="248.77" width="5.9" height="5.9" fill="#fff9f6"/>
<rect x="138.97" y="255.01" width="5.9" height="5.9" fill="#fffdfc"/>
<rect x="145.21" y="255.01" width="5.9" height="5.9" fill="#fff4ef"/>
<rect x="151.44" y="255.01" width="5.9" height="5.9" fill="#f5edff"/>
<rect x="157.68" y="255.01" width="5.9" height="5.9" fill="#f5edff"/>
<rect x="163.92" y="255.01" width="5.9" height="5.9" fill="#fffcfb"/>
<rect x="170.15" y="255.01" width="5.9" height="5.9" fill="#f7f0ff"/>
<rect x="176.39" y="255.01" width="5.9" height="5.9" fill="#fefdff"/>
<rect x="188.86" y="255.01" width="5.9" height="5.9" fill="#fefdff"/>
<rect x="195.10" y="255.01" width="5.9" height="5.9" fill="#f9f4ff"/>
<rect x="201.33" y="255.01" width="5.9" height="5.9" fill="#fff4ef"/>
<rect x="207.57" y="255.01" width="5.9" height="5.9" fill="#fff1eb"/>
<rect x="213.80" y="255.01" width="5.9" height="5.9" fill="#ebdcff"/>
<rect x="220.04" y="255.01" width="5.9" height="5.9" fill="#ebdcff"/>
<rect x="226.28" y="255.01" width="5.9" height="5.9" fill="#fff1eb"/>
<rect x="244.98" y="255.01" width="5.9" height="5.9" fill="#fff9f6"/>
<rect x="251.22" y="255.01" width="5.9" height="5.9" fill="#fff6f3"/>
<rect x="263.69" y="255.01" width="5.9" height="5.9" fill="#fffdfc"/>
<rect x="276.16" y="255.01" width="5.9" height="5.9" fill="#f0e5ff"/>
<rect x="301.11" y="255.01" width="5.9" height="5.9" fill="#fefdff"/>
<rect x="307.34" y="255.01" width="5.9" height="5.9" fill="#f9f4ff"/>
<rect x="313.58" y="255.01" width="5.9" height="5.9" fill="#e5d2ff"/>
<rect x="319.82" y="255.01" width="5.9" height="5.9" fill="#ffd3c4"/>
<rect x="326.05" y="255.01" width="5.9" height="5.9" fill="#f5edff"/>
<rect x="332.29" y="255.01" width="5.9" height="5.9" fill="#fff1eb"/>
<rect x="338.52" y="255.01" width="5.9" height="5.9" fill="#f5edff"/>
<rect x="344.76" y="255.01" width="5.9" height="5.9" fill="#f5edff"/>
<rect x="363.47" y="255.01" width="5.9" height="5.9" fill="#fdfcff"/>
<rect x="388.41" y="255.01" width="5.9" height="5.9" fill="#fbf7ff"/>
<rect x="400.88" y="255.01" width="5.9" height="5.9" fill="#fffcfb"/>
<rect x="413.36" y="255.01" width="5.9" height="5.9" fill="#fff9f6"/>
<rect x="419.59" y="255.01" width="5.9" height="5.9" fill="#fffdfc"/>
<rect x="145.21" y="261.24" width="5.9" height="5.9" fill="#fff4ef"/>
<rect x="151.44" y="261.24" width="5.9" height="5.9" fill="#fdfbff"/>
<rect x="157.68" y="261.24" width="5.9" height="5.9" fill="#fff9f6"/>
<rect x="163.92" y="261.24" width="5.9" height="5.9" fill="#fff6f3"/>
<rect x="170.15" y="261.24" width="5.9" height="5.9" fill="#fff6f3"/>
<rect x="176.39" y="261.24" width="5.9" height="5.9" fill="#fdfbff"/>
<rect x="188.86" y="261.24" width="5.9" height="5.9" fill="#fdfbff"/>
<rect x="195.10" y="261.24" width="5.9" height="5.9" fill="#f7f0ff"/>
<rect x="201.33" y="261.24" width="5.9" height="5.9" fill="#ffeae3"/>
<rect x="207.57" y="261.24" width="5.9" height="5.9" fill="#fffefd"/>
<rect x="213.80" y="261.24" width="5.9" height="5.9" fill="#fdfbff"/>
<rect x="244.98" y="261.24" width="5.9" height="5.9" fill="#ffeae3"/>
<rect x="251.22" y="261.24" width="5.9" height="5.9" fill="#fffdfc"/>
<rect x="263.69" y="261.24" width="5.9" height="5.9" fill="#ffeae3"/>
<rect x="269.93" y="261.24" width="5.9" height="5.9" fill="#f5edff"/>
<rect x="276.16" y="261.24" width="5.9" height="5.9" fill="#f9f4ff"/>
<rect x="288.64" y="261.24" width="5.9" height="5.9" fill="#f5edff"/>
<rect x="313.58" y="261.24" width="5.9" height="5.9" fill="#fff6f3"/>
<rect x="319.82" y="261.24" width="5.9" height="5.9" fill="#f0e5ff"/>
<rect x="326.05" y="261.24" width="5.9" height="5.9" fill="#ffeae3"/>
<rect x="351.00" y="261.24" width="5.9" height="5.9" fill="#f0e5ff"/>
<rect x="357.23" y="261.24" width="5.9" height="5.9" fill="#fff1eb"/>
<rect x="363.47" y="261.24" width="5.9" height="5.9" fill="#f9f4ff"/>
<rect x="369.70" y="261.24" width="5.9" height="5.9" fill="#f9f4ff"/>
<rect x="382.18" y="261.24" width="5.9" height="5.9" fill="#f0e5ff"/>
<rect x="394.65" y="261.24" width="5.9" height="5.9" fill="#ffeae3"/>
<rect x="400.88" y="261.24" width="5.9" height="5.9" fill="#fefdff"/>
<rect x="126.50" y="267.48" width="5.9" height="5.9" fill="#fff1eb"/>
<rect x="138.97" y="267.48" width="5.9" height="5.9" fill="#fbf7ff"/>
<rect x="145.21" y="267.48" width="5.9" height="5.9" fill="#fff1eb"/>
<rect x="151.44" y="267.48" width="5.9" height="5.9" fill="#fbf7ff"/>
<rect x="163.92" y="267.48" width="5.9" height="5.9" fill="#fefcff"/>
<rect x="182.62" y="267.48" width="5.9" height="5.9" fill="#fff9f6"/>
<rect x="201.33" y="267.48" width="5.9" height="5.9" fill="#fdfcff"/>
<rect x="207.57" y="267.48" width="5.9" height="5.9" fill="#ffeae3"/>
<rect x="213.80" y="267.48" width="5.9" height="5.9" fill="#f0e5ff"/>
<rect x="220.04" y="267.48" width="5.9" height="5.9" fill="#fffdfc"/>
<rect x="226.28" y="267.48" width="5.9" height="5.9" fill="#fefdff"/>
<rect x="238.75" y="267.48" width="5.9" height="5.9" fill="#fff9f6"/>
<rect x="244.98" y="267.48" width="5.9" height="5.9" fill="#fffdfc"/>
<rect x="251.22" y="267.48" width="5.9" height="5.9" fill="#fff6f3"/>
<rect x="269.93" y="267.48" width="5.9" height="5.9" fill="#fefdff"/>
<rect x="282.40" y="267.48" width="5.9" height="5.9" fill="#f7f0ff"/>
<rect x="288.64" y="267.48" width="5.9" height="5.9" fill="#dec8ff"/>
<rect x="294.87" y="267.48" width="5.9" height="5.9" fill="#fdfcff"/>
<rect x="319.82" y="267.48" width="5.9" height="5.9" fill="#875aff"/>
<rect x="326.05" y="267.48" width="5.9" height="5.9" fill="#ff7453"/>
<rect x="332.29" y="267.48" width="5.9" height="5.9" fill="#fff1eb"/>
<rect x="344.76" y="267.48" width="5.9" height="5.9" fill="#fdfbff"/>
<rect x="351.00" y="267.48" width="5.9" height="5.9" fill="#fff9f6"/>
<rect x="363.47" y="267.48" width="5.9" height="5.9" fill="#fdfbff"/>
<rect x="369.70" y="267.48" width="5.9" height="5.9" fill="#fffdfc"/>
<rect x="375.94" y="267.48" width="5.9" height="5.9" fill="#fffefd"/>
<rect x="382.18" y="267.48" width="5.9" height="5.9" fill="#fff9f6"/>
<rect x="388.41" y="267.48" width="5.9" height="5.9" fill="#fff9f6"/>
<rect x="132.74" y="273.72" width="5.9" height="5.9" fill="#fbf7ff"/>
<rect x="138.97" y="273.72" width="5.9" height="5.9" fill="#f9f4ff"/>
<rect x="151.44" y="273.72" width="5.9" height="5.9" fill="#f7f0ff"/>
<rect x="157.68" y="273.72" width="5.9" height="5.9" fill="#fff6f3"/>
<rect x="163.92" y="273.72" width="5.9" height="5.9" fill="#fff6f3"/>
<rect x="170.15" y="273.72" width="5.9" height="5.9" fill="#fff6f3"/>
<rect x="176.39" y="273.72" width="5.9" height="5.9" fill="#fff6f3"/>
<rect x="182.62" y="273.72" width="5.9" height="5.9" fill="#fffdfd"/>
<rect x="195.10" y="273.72" width="5.9" height="5.9" fill="#fff4ef"/>
<rect x="201.33" y="273.72" width="5.9" height="5.9" fill="#ebdcff"/>
<rect x="207.57" y="273.72" width="5.9" height="5.9" fill="#f5edff"/>
<rect x="213.80" y="273.72" width="5.9" height="5.9" fill="#ffeae3"/>
<rect x="220.04" y="273.72" width="5.9" height="5.9" fill="#fff9f6"/>
<rect x="226.28" y="273.72" width="5.9" height="5.9" fill="#fdfcff"/>
<rect x="232.51" y="273.72" width="5.9" height="5.9" fill="#fefdff"/>
<rect x="238.75" y="273.72" width="5.9" height="5.9" fill="#fdfbff"/>
<rect x="244.98" y="273.72" width="5.9" height="5.9" fill="#ffeae3"/>
<rect x="251.22" y="273.72" width="5.9" height="5.9" fill="#f9f4ff"/>
<rect x="263.69" y="273.72" width="5.9" height="5.9" fill="#ffeae3"/>
<rect x="269.93" y="273.72" width="5.9" height="5.9" fill="#f9f4ff"/>
<rect x="276.16" y="273.72" width="5.9" height="5.9" fill="#fff6f3"/>
<rect x="282.40" y="273.72" width="5.9" height="5.9" fill="#fff6f3"/>
<rect x="288.64" y="273.72" width="5.9" height="5.9" fill="#fff9f6"/>
<rect x="294.87" y="273.72" width="5.9" height="5.9" fill="#fff9f6"/>
<rect x="307.34" y="273.72" width="5.9" height="5.9" fill="#fdfcff"/>
<rect x="313.58" y="273.72" width="5.9" height="5.9" fill="#fff1eb"/>
<rect x="338.52" y="273.72" width="5.9" height="5.9" fill="#f5edff"/>
<rect x="344.76" y="273.72" width="5.9" height="5.9" fill="#fff9f6"/>
<rect x="351.00" y="273.72" width="5.9" height="5.9" fill="#fdfcff"/>
<rect x="357.23" y="273.72" width="5.9" height="5.9" fill="#f5edff"/>
<rect x="369.70" y="273.72" width="5.9" height="5.9" fill="#fff9f6"/>
<rect x="407.12" y="273.72" width="5.9" height="5.9" fill="#f9f4ff"/>
<rect x="425.83" y="273.72" width="5.9" height="5.9" fill="#fffcfb"/>
<rect x="132.74" y="279.95" width="5.9" height="5.9" fill="#fdfcff"/>
<rect x="145.21" y="279.95" width="5.9" height="5.9" fill="#fffdfc"/>
<rect x="176.39" y="279.95" width="5.9" height="5.9" fill="#fffcfb"/>
<rect x="220.04" y="279.95" width="5.9" height="5.9" fill="#fff1eb"/>
<rect x="226.28" y="279.95" width="5.9" height="5.9" fill="#ffd3c4"/>
<rect x="232.51" y="279.95" width="5.9" height="5.9" fill="#fdfbff"/>
<rect x="263.69" y="279.95" width="5.9" height="5.9" fill="#fefdff"/>
<rect x="269.93" y="279.95" width="5.9" height="5.9" fill="#fefdff"/>
<rect x="288.64" y="279.95" width="5.9" height="5.9" fill="#fefdff"/>
<rect x="313.58" y="279.95" width="5.9" height="5.9" fill="#fffefd"/>
<rect x="332.29" y="279.95" width="5.9" height="5.9" fill="#fefcff"/>
<rect x="351.00" y="279.95" width="5.9" height="5.9" fill="#fefdff"/>
<rect x="357.23" y="279.95" width="5.9" height="5.9" fill="#fdfbff"/>
<rect x="363.47" y="279.95" width="5.9" height="5.9" fill="#fffcfb"/>
<rect x="369.70" y="279.95" width="5.9" height="5.9" fill="#fdfbff"/>
<rect x="382.18" y="279.95" width="5.9" height="5.9" fill="#fff1eb"/>
<rect x="394.65" y="279.95" width="5.9" height="5.9" fill="#fff1eb"/>
<rect x="407.12" y="279.95" width="5.9" height="5.9" fill="#fff9f6"/>
<rect x="132.74" y="286.19" width="5.9" height="5.9" fill="#fffcfb"/>
<rect x="182.62" y="286.19" width="5.9" height="5.9" fill="#fffdfd"/>
<rect x="213.80" y="286.19" width="5.9" height="5.9" fill="#fffdfd"/>
<rect x="226.28" y="286.19" width="5.9" height="5.9" fill="#fffcfb"/>
<rect x="269.93" y="286.19" width="5.9" height="5.9" fill="#fffcfb"/>
<rect x="294.87" y="286.19" width="5.9" height="5.9" fill="#fefdff"/>
<rect x="338.52" y="286.19" width="5.9" height="5.9" fill="#fffefd"/>
<rect x="375.94" y="286.19" width="5.9" height="5.9" fill="#875aff"/>
<rect x="388.41" y="286.19" width="5.9" height="5.9" fill="#ff7453"/>
<rect x="400.88" y="286.19" width="5.9" height="5.9" fill="#fdfcff"/>
<rect x="425.83" y="286.19" width="5.9" height="5.9" fill="#fffdfd"/>
<rect x="157.68" y="292.42" width="5.9" height="5.9" fill="#fefdff"/>
<rect x="170.15" y="292.42" width="5.9" height="5.9" fill="#f9f4ff"/>
<rect x="195.10" y="292.42" width="5.9" height="5.9" fill="#fefdff"/>
<rect x="207.57" y="292.42" width="5.9" height="5.9" fill="#fefdff"/>
<rect x="220.04" y="292.42" width="5.9" height="5.9" fill="#fdfcff"/>
<rect x="226.28" y="292.42" width="5.9" height="5.9" fill="#ffcab7"/>
<rect x="232.51" y="292.42" width="5.9" height="5.9" fill="#fff1eb"/>
<rect x="257.46" y="292.42" width="5.9" height="5.9" fill="#f5edff"/>
<rect x="282.40" y="292.42" width="5.9" height="5.9" fill="#f7f0ff"/>
<rect x="288.64" y="292.42" width="5.9" height="5.9" fill="#f9f4ff"/>
<rect x="294.87" y="292.42" width="5.9" height="5.9" fill="#f9f4ff"/>
<rect x="313.58" y="292.42" width="5.9" height="5.9" fill="#f9f4ff"/>
<rect x="326.05" y="292.42" width="5.9" height="5.9" fill="#fff9f6"/>
<rect x="351.00" y="292.42" width="5.9" height="5.9" fill="#fff6f3"/>
<rect x="357.23" y="292.42" width="5.9" height="5.9" fill="#f9f4ff"/>
<rect x="363.47" y="292.42" width="5.9" height="5.9" fill="#fdfcff"/>
<rect x="375.94" y="292.42" width="5.9" height="5.9" fill="#fff1eb"/>
<rect x="382.18" y="292.42" width="5.9" height="5.9" fill="#ebdcff"/>
<rect x="407.12" y="292.42" width="5.9" height="5.9" fill="#fbf7ff"/>
<rect x="138.97" y="298.66" width="5.9" height="5.9" fill="#f0e5ff"/>
<rect x="145.21" y="298.66" width="5.9" height="5.9" fill="#ffcab7"/>
<rect x="151.44" y="298.66" width="5.9" height="5.9" fill="#fefeff"/>
<rect x="207.57" y="298.66" width="5.9" height="5.9" fill="#ffb59e"/>
<rect x="301.11" y="298.66" width="5.9" height="5.9" fill="#fffcfb"/>
<rect x="319.82" y="298.66" width="5.9" height="5.9" fill="#fffdfd"/>
<rect x="344.76" y="298.66" width="5.9" height="5.9" fill="#fffcfb"/>
<rect x="357.23" y="298.66" width="5.9" height="5.9" fill="#fffdfc"/>
<rect x="138.97" y="304.90" width="5.9" height="5.9" fill="#fff1eb"/>
<rect x="145.21" y="304.90" width="5.9" height="5.9" fill="#d1b4ff"/>
<rect x="157.68" y="304.90" width="5.9" height="5.9" fill="#fffdfc"/>
<rect x="176.39" y="304.90" width="5.9" height="5.9" fill="#fdfbff"/>
<rect x="213.80" y="304.90" width="5.9" height="5.9" fill="#ffb59e"/>
<rect x="232.51" y="304.90" width="5.9" height="5.9" fill="#fffdfc"/>
<rect x="238.75" y="304.90" width="5.9" height="5.9" fill="#fffdfc"/>
<rect x="244.98" y="304.90" width="5.9" height="5.9" fill="#fffcfc"/>
<rect x="276.16" y="304.90" width="5.9" height="5.9" fill="#fffcfb"/>
<rect x="282.40" y="304.90" width="5.9" height="5.9" fill="#fefdff"/>
<rect x="288.64" y="304.90" width="5.9" height="5.9" fill="#fefdff"/>
<rect x="307.34" y="304.90" width="5.9" height="5.9" fill="#fffefd"/>
<rect x="313.58" y="304.90" width="5.9" height="5.9" fill="#fdfbff"/>
<rect x="326.05" y="304.90" width="5.9" height="5.9" fill="#fdfcff"/>
<rect x="332.29" y="304.90" width="5.9" height="5.9" fill="#fffcfb"/>
<rect x="363.47" y="304.90" width="5.9" height="5.9" fill="#fefdff"/>
<rect x="369.70" y="304.90" width="5.9" height="5.9" fill="#fdfcff"/>
<rect x="382.18" y="304.90" width="5.9" height="5.9" fill="#fefdff"/>
<rect x="413.36" y="304.90" width="5.9" height="5.9" fill="#fdfcff"/>
<rect x="425.83" y="304.90" width="5.9" height="5.9" fill="#fefdff"/>
<rect x="432.06" y="304.90" width="5.9" height="5.9" fill="#fffdfc"/>
<rect x="138.97" y="311.13" width="5.9" height="5.9" fill="#fff1eb"/>
<rect x="145.21" y="311.13" width="5.9" height="5.9" fill="#f5edff"/>
<rect x="151.44" y="311.13" width="5.9" height="5.9" fill="#f9f4ff"/>
<rect x="157.68" y="311.13" width="5.9" height="5.9" fill="#f9f4ff"/>
<rect x="163.92" y="311.13" width="5.9" height="5.9" fill="#fefcff"/>
<rect x="170.15" y="311.13" width="5.9" height="5.9" fill="#f5edff"/>
<rect x="182.62" y="311.13" width="5.9" height="5.9" fill="#fffdfc"/>
<rect x="195.10" y="311.13" width="5.9" height="5.9" fill="#ffe3d9"/>
<rect x="207.57" y="311.13" width="5.9" height="5.9" fill="#f9f4ff"/>
<rect x="213.80" y="311.13" width="5.9" height="5.9" fill="#fff1eb"/>
<rect x="220.04" y="311.13" width="5.9" height="5.9" fill="#fbf7ff"/>
<rect x="232.51" y="311.13" width="5.9" height="5.9" fill="#fefdff"/>
<rect x="238.75" y="311.13" width="5.9" height="5.9" fill="#f5edff"/>
<rect x="251.22" y="311.13" width="5.9" height="5.9" fill="#ffeae3"/>
<rect x="257.46" y="311.13" width="5.9" height="5.9" fill="#fff6f3"/>
<rect x="263.69" y="311.13" width="5.9" height="5.9" fill="#fff6f3"/>
<rect x="269.93" y="311.13" width="5.9" height="5.9" fill="#fdfbff"/>
<rect x="288.64" y="311.13" width="5.9" height="5.9" fill="#fff6f3"/>
<rect x="313.58" y="311.13" width="5.9" height="5.9" fill="#fff6f3"/>
<rect x="326.05" y="311.13" width="5.9" height="5.9" fill="#f9f4ff"/>
<rect x="332.29" y="311.13" width="5.9" height="5.9" fill="#fffdfc"/>
<rect x="338.52" y="311.13" width="5.9" height="5.9" fill="#f5edff"/>
<rect x="357.23" y="311.13" width="5.9" height="5.9" fill="#fff1eb"/>
<rect x="363.47" y="311.13" width="5.9" height="5.9" fill="#f9f4ff"/>
<rect x="382.18" y="311.13" width="5.9" height="5.9" fill="#fff6f3"/>
<rect x="388.41" y="311.13" width="5.9" height="5.9" fill="#fefdff"/>
<rect x="394.65" y="311.13" width="5.9" height="5.9" fill="#f9f4ff"/>
<rect x="400.88" y="311.13" width="5.9" height="5.9" fill="#fffefd"/>
<rect x="425.83" y="311.13" width="5.9" height="5.9" fill="#fffdfd"/>
<rect x="126.50" y="317.37" width="5.9" height="5.9" fill="#ffeae3"/>
<rect x="132.74" y="317.37" width="5.9" height="5.9" fill="#f5edff"/>
<rect x="138.97" y="317.37" width="5.9" height="5.9" fill="#fbf7ff"/>
<rect x="145.21" y="317.37" width="5.9" height="5.9" fill="#ffd3c4"/>
<rect x="163.92" y="317.37" width="5.9" height="5.9" fill="#f9f4ff"/>
<rect x="201.33" y="317.37" width="5.9" height="5.9" fill="#ffe3d9"/>
<rect x="207.57" y="317.37" width="5.9" height="5.9" fill="#ffd3c4"/>
<rect x="213.80" y="317.37" width="5.9" height="5.9" fill="#f0e5ff"/>
<rect x="226.28" y="317.37" width="5.9" height="5.9" fill="#fefdff"/>
<rect x="232.51" y="317.37" width="5.9" height="5.9" fill="#fefdff"/>
<rect x="238.75" y="317.37" width="5.9" height="5.9" fill="#fff9f6"/>
<rect x="244.98" y="317.37" width="5.9" height="5.9" fill="#fff9f6"/>
<rect x="251.22" y="317.37" width="5.9" height="5.9" fill="#f9f4ff"/>
<rect x="257.46" y="317.37" width="5.9" height="5.9" fill="#fbf7ff"/>
<rect x="263.69" y="317.37" width="5.9" height="5.9" fill="#fdfcff"/>
<rect x="282.40" y="317.37" width="5.9" height="5.9" fill="#fffdfc"/>
<rect x="288.64" y="317.37" width="5.9" height="5.9" fill="#f9f4ff"/>
<rect x="294.87" y="317.37" width="5.9" height="5.9" fill="#f9f4ff"/>
<rect x="319.82" y="317.37" width="5.9" height="5.9" fill="#f5edff"/>
<rect x="326.05" y="317.37" width="5.9" height="5.9" fill="#fff1eb"/>
<rect x="332.29" y="317.37" width="5.9" height="5.9" fill="#fffdfc"/>
<rect x="338.52" y="317.37" width="5.9" height="5.9" fill="#fff1eb"/>
<rect x="344.76" y="317.37" width="5.9" height="5.9" fill="#fff6f3"/>
<rect x="351.00" y="317.37" width="5.9" height="5.9" fill="#fffdfc"/>
<rect x="363.47" y="317.37" width="5.9" height="5.9" fill="#fbf7ff"/>
<rect x="375.94" y="317.37" width="5.9" height="5.9" fill="#fbf7ff"/>
<rect x="413.36" y="317.37" width="5.9" height="5.9" fill="#fff9f6"/>
<rect x="425.83" y="317.37" width="5.9" height="5.9" fill="#fdfcff"/>
<rect x="432.06" y="317.37" width="5.9" height="5.9" fill="#fffcfb"/>
<rect x="126.50" y="323.60" width="5.9" height="5.9" fill="#ebdcff"/>
<rect x="132.74" y="323.60" width="5.9" height="5.9" fill="#ffe3d9"/>
<rect x="145.21" y="323.60" width="5.9" height="5.9" fill="#fefdff"/>
<rect x="157.68" y="323.60" width="5.9" height="5.9" fill="#fdfcff"/>
<rect x="163.92" y="323.60" width="5.9" height="5.9" fill="#fdfcff"/>
<rect x="170.15" y="323.60" width="5.9" height="5.9" fill="#fffcfb"/>
<rect x="182.62" y="323.60" width="5.9" height="5.9" fill="#ffbca6"/>
<rect x="188.86" y="323.60" width="5.9" height="5.9" fill="#fffefd"/>
<rect x="257.46" y="323.60" width="5.9" height="5.9" fill="#fffdfc"/>
<rect x="294.87" y="323.60" width="5.9" height="5.9" fill="#fffdfc"/>
<rect x="307.34" y="323.60" width="5.9" height="5.9" fill="#fefdff"/>
<rect x="319.82" y="323.60" width="5.9" height="5.9" fill="#fefdff"/>
<rect x="332.29" y="323.60" width="5.9" height="5.9" fill="#dec8ff"/>
<rect x="338.52" y="323.60" width="5.9" height="5.9" fill="#ffdccf"/>
<rect x="357.23" y="323.60" width="5.9" height="5.9" fill="#fdfcff"/>
<rect x="382.18" y="323.60" width="5.9" height="5.9" fill="#fffcfb"/>
<rect x="388.41" y="323.60" width="5.9" height="5.9" fill="#fffdfc"/>
<rect x="407.12" y="323.60" width="5.9" height="5.9" fill="#fffcfb"/>
<rect x="413.36" y="323.60" width="5.9" height="5.9" fill="#fcfaff"/>
<rect x="126.50" y="329.84" width="5.9" height="5.9" fill="#f5edff"/>
<rect x="132.74" y="329.84" width="5.9" height="5.9" fill="#f0e5ff"/>
<rect x="151.44" y="329.84" width="5.9" height="5.9" fill="#fffdfd"/>
<rect x="170.15" y="329.84" width="5.9" height="5.9" fill="#fffcfb"/>
<rect x="182.62" y="329.84" width="5.9" height="5.9" fill="#fefdff"/>
<rect x="188.86" y="329.84" width="5.9" height="5.9" fill="#ffb59e"/>
<rect x="251.22" y="329.84" width="5.9" height="5.9" fill="#fefcff"/>
<rect x="257.46" y="329.84" width="5.9" height="5.9" fill="#fffefd"/>
<rect x="263.69" y="329.84" width="5.9" height="5.9" fill="#fdfcff"/>
<rect x="269.93" y="329.84" width="5.9" height="5.9" fill="#fefdff"/>
<rect x="282.40" y="329.84" width="5.9" height="5.9" fill="#fffefd"/>
<rect x="313.58" y="329.84" width="5.9" height="5.9" fill="#fffefd"/>
<rect x="332.29" y="329.84" width="5.9" height="5.9" fill="#ffeae3"/>
<rect x="338.52" y="329.84" width="5.9" height="5.9" fill="#d7bcff"/>
<rect x="344.76" y="329.84" width="5.9" height="5.9" fill="#fdfcff"/>
<rect x="351.00" y="329.84" width="5.9" height="5.9" fill="#fdfcff"/>
<rect x="363.47" y="329.84" width="5.9" height="5.9" fill="#fdfcff"/>
<rect x="388.41" y="329.84" width="5.9" height="5.9" fill="#fffefd"/>
<rect x="400.88" y="329.84" width="5.9" height="5.9" fill="#fffdfd"/>
<rect x="407.12" y="329.84" width="5.9" height="5.9" fill="#fffdfc"/>
<rect x="413.36" y="329.84" width="5.9" height="5.9" fill="#fbf7ff"/>
<rect x="419.59" y="329.84" width="5.9" height="5.9" fill="#fffdfc"/>
<rect x="126.50" y="336.08" width="5.9" height="5.9" fill="#fff1eb"/>
<rect x="132.74" y="336.08" width="5.9" height="5.9" fill="#f5edff"/>
<rect x="145.21" y="336.08" width="5.9" height="5.9" fill="#fff9f6"/>
<rect x="151.44" y="336.08" width="5.9" height="5.9" fill="#fffcfb"/>
<rect x="157.68" y="336.08" width="5.9" height="5.9" fill="#fff1eb"/>
<rect x="170.15" y="336.08" width="5.9" height="5.9" fill="#ffe3d9"/>
<rect x="176.39" y="336.08" width="5.9" height="5.9" fill="#fffcfb"/>
<rect x="188.86" y="336.08" width="5.9" height="5.9" fill="#fffcfb"/>
<rect x="201.33" y="336.08" width="5.9" height="5.9" fill="#fff9f6"/>
<rect x="207.57" y="336.08" width="5.9" height="5.9" fill="#fff9f6"/>
<rect x="226.28" y="336.08" width="5.9" height="5.9" fill="#ffe3d9"/>
<rect x="238.75" y="336.08" width="5.9" height="5.9" fill="#fffdfc"/>
<rect x="257.46" y="336.08" width="5.9" height="5.9" fill="#fefdff"/>
<rect x="263.69" y="336.08" width="5.9" height="5.9" fill="#fff1eb"/>
<rect x="276.16" y="336.08" width="5.9" height="5.9" fill="#fffcfb"/>
<rect x="288.64" y="336.08" width="5.9" height="5.9" fill="#fefdff"/>
<rect x="332.29" y="336.08" width="5.9" height="5.9" fill="#fdfcff"/>
<rect x="344.76" y="336.08" width="5.9" height="5.9" fill="#fff6f3"/>
<rect x="357.23" y="336.08" width="5.9" height="5.9" fill="#fefdff"/>
<rect x="369.70" y="336.08" width="5.9" height="5.9" fill="#fff9f6"/>
<rect x="375.94" y="336.08" width="5.9" height="5.9" fill="#ffd3c4"/>
<rect x="382.18" y="336.08" width="5.9" height="5.9" fill="#fff6f3"/>
<rect x="388.41" y="336.08" width="5.9" height="5.9" fill="#d7bcff"/>
<rect x="400.88" y="336.08" width="5.9" height="5.9" fill="#fff1eb"/>
<rect x="419.59" y="336.08" width="5.9" height="5.9" fill="#fefcff"/>
<rect x="432.06" y="336.08" width="5.9" height="5.9" fill="#fffdfc"/>
<rect x="126.50" y="342.31" width="5.9" height="5.9" fill="#fff1eb"/>
<rect x="138.97" y="342.31" width="5.9" height="5.9" fill="#ffeae3"/>
<rect x="145.21" y="342.31" width="5.9" height="5.9" fill="#f0e5ff"/>
<rect x="151.44" y="342.31" width="5.9" height="5.9" fill="#fff9f6"/>
<rect x="157.68" y="342.31" width="5.9" height="5.9" fill="#fefdff"/>
<rect x="176.39" y="342.31" width="5.9" height="5.9" fill="#ffe3d9"/>
<rect x="182.62" y="342.31" width="5.9" height="5.9" fill="#fdfbff"/>
<rect x="195.10" y="342.31" width="5.9" height="5.9" fill="#fffefd"/>
<rect x="201.33" y="342.31" width="5.9" height="5.9" fill="#f0e5ff"/>
<rect x="207.57" y="342.31" width="5.9" height="5.9" fill="#f5edff"/>
<rect x="220.04" y="342.31" width="5.9" height="5.9" fill="#f5edff"/>
<rect x="226.28" y="342.31" width="5.9" height="5.9" fill="#ffdccf"/>
<rect x="257.46" y="342.31" width="5.9" height="5.9" fill="#fbf7ff"/>
<rect x="313.58" y="342.31" width="5.9" height="5.9" fill="#fbf7ff"/>
<rect x="319.82" y="342.31" width="5.9" height="5.9" fill="#fffefd"/>
<rect x="326.05" y="342.31" width="5.9" height="5.9" fill="#fff1eb"/>
<rect x="332.29" y="342.31" width="5.9" height="5.9" fill="#fff1eb"/>
<rect x="338.52" y="342.31" width="5.9" height="5.9" fill="#fff1eb"/>
<rect x="344.76" y="342.31" width="5.9" height="5.9" fill="#fff1eb"/>
<rect x="375.94" y="342.31" width="5.9" height="5.9" fill="#ffcab7"/>
<rect x="382.18" y="342.31" width="5.9" height="5.9" fill="#fff1eb"/>
<rect x="388.41" y="342.31" width="5.9" height="5.9" fill="#d1b4ff"/>
<rect x="413.36" y="342.31" width="5.9" height="5.9" fill="#fff9f6"/>
<rect x="432.06" y="342.31" width="5.9" height="5.9" fill="#fffcfb"/>
<rect x="138.97" y="348.55" width="5.9" height="5.9" fill="#fffdfc"/>
<rect x="170.15" y="348.55" width="5.9" height="5.9" fill="#fff9f6"/>
<rect x="195.10" y="348.55" width="5.9" height="5.9" fill="#f0e5ff"/>
<rect x="201.33" y="348.55" width="5.9" height="5.9" fill="#fff6f3"/>
<rect x="213.80" y="348.55" width="5.9" height="5.9" fill="#f5edff"/>
<rect x="220.04" y="348.55" width="5.9" height="5.9" fill="#fefdff"/>
<rect x="238.75" y="348.55" width="5.9" height="5.9" fill="#fffdfc"/>
<rect x="251.22" y="348.55" width="5.9" height="5.9" fill="#fff1eb"/>
<rect x="263.69" y="348.55" width="5.9" height="5.9" fill="#ffeae3"/>
<rect x="269.93" y="348.55" width="5.9" height="5.9" fill="#fffdfc"/>
<rect x="276.16" y="348.55" width="5.9" height="5.9" fill="#f0e5ff"/>
<rect x="282.40" y="348.55" width="5.9" height="5.9" fill="#fff1eb"/>
<rect x="288.64" y="348.55" width="5.9" height="5.9" fill="#ebdcff"/>
<rect x="294.87" y="348.55" width="5.9" height="5.9" fill="#fdfbff"/>
<rect x="301.11" y="348.55" width="5.9" height="5.9" fill="#fefdff"/>
<rect x="313.58" y="348.55" width="5.9" height="5.9" fill="#f5edff"/>
<rect x="326.05" y="348.55" width="5.9" height="5.9" fill="#ffeae3"/>
<rect x="332.29" y="348.55" width="5.9" height="5.9" fill="#fffcfb"/>
<rect x="338.52" y="348.55" width="5.9" height="5.9" fill="#ffeae3"/>
<rect x="344.76" y="348.55" width="5.9" height="5.9" fill="#fffdfd"/>
<rect x="351.00" y="348.55" width="5.9" height="5.9" fill="#fff6f3"/>
<rect x="363.47" y="348.55" width="5.9" height="5.9" fill="#fdfbff"/>
<rect x="369.70" y="348.55" width="5.9" height="5.9" fill="#f9f4ff"/>
<rect x="388.41" y="348.55" width="5.9" height="5.9" fill="#fdfcff"/>
<rect x="394.65" y="348.55" width="5.9" height="5.9" fill="#f5edff"/>
<rect x="407.12" y="348.55" width="5.9" height="5.9" fill="#fbf7ff"/>
<rect x="132.74" y="354.78" width="5.9" height="5.9" fill="#ffeae3"/>
<rect x="138.97" y="354.78" width="5.9" height="5.9" fill="#f5edff"/>
<rect x="145.21" y="354.78" width="5.9" height="5.9" fill="#f5edff"/>
<rect x="151.44" y="354.78" width="5.9" height="5.9" fill="#fffcfb"/>
<rect x="157.68" y="354.78" width="5.9" height="5.9" fill="#fefdff"/>
<rect x="163.92" y="354.78" width="5.9" height="5.9" fill="#fefeff"/>
<rect x="170.15" y="354.78" width="5.9" height="5.9" fill="#fff9f6"/>
<rect x="176.39" y="354.78" width="5.9" height="5.9" fill="#fff6f3"/>
<rect x="182.62" y="354.78" width="5.9" height="5.9" fill="#fff9f6"/>
<rect x="195.10" y="354.78" width="5.9" height="5.9" fill="#fffefd"/>
<rect x="201.33" y="354.78" width="5.9" height="5.9" fill="#fbf7ff"/>
<rect x="207.57" y="354.78" width="5.9" height="5.9" fill="#fdfcff"/>
<rect x="226.28" y="354.78" width="5.9" height="5.9" fill="#f9f4ff"/>
<rect x="238.75" y="354.78" width="5.9" height="5.9" fill="#fff9f6"/>
<rect x="244.98" y="354.78" width="5.9" height="5.9" fill="#fff9f6"/>
<rect x="257.46" y="354.78" width="5.9" height="5.9" fill="#f5edff"/>
<rect x="263.69" y="354.78" width="5.9" height="5.9" fill="#fffcfb"/>
<rect x="276.16" y="354.78" width="5.9" height="5.9" fill="#fff6f3"/>
<rect x="282.40" y="354.78" width="5.9" height="5.9" fill="#fffefd"/>
<rect x="307.34" y="354.78" width="5.9" height="5.9" fill="#e5d2ff"/>
<rect x="319.82" y="354.78" width="5.9" height="5.9" fill="#fff6f3"/>
<rect x="326.05" y="354.78" width="5.9" height="5.9" fill="#f5edff"/>
<rect x="332.29" y="354.78" width="5.9" height="5.9" fill="#fffefd"/>
<rect x="338.52" y="354.78" width="5.9" height="5.9" fill="#fff1eb"/>
<rect x="357.23" y="354.78" width="5.9" height="5.9" fill="#f5edff"/>
<rect x="363.47" y="354.78" width="5.9" height="5.9" fill="#fefdff"/>
<rect x="369.70" y="354.78" width="5.9" height="5.9" fill="#fffefd"/>
<rect x="382.18" y="354.78" width="5.9" height="5.9" fill="#fff9f6"/>
<rect x="394.65" y="354.78" width="5.9" height="5.9" fill="#fff9f6"/>
<rect x="400.88" y="354.78" width="5.9" height="5.9" fill="#fff9f6"/>
<rect x="419.59" y="354.78" width="5.9" height="5.9" fill="#fffefd"/>
<rect x="126.50" y="361.02" width="5.9" height="5.9" fill="#ebdcff"/>
<rect x="138.97" y="361.02" width="5.9" height="5.9" fill="#fff1eb"/>
<rect x="145.21" y="361.02" width="5.9" height="5.9" fill="#f0e5ff"/>
<rect x="157.68" y="361.02" width="5.9" height="5.9" fill="#fff9f6"/>
<rect x="163.92" y="361.02" width="5.9" height="5.9" fill="#fffdfc"/>
<rect x="170.15" y="361.02" width="5.9" height="5.9" fill="#fff6f3"/>
<rect x="195.10" y="361.02" width="5.9" height="5.9" fill="#fffcfb"/>
<rect x="201.33" y="361.02" width="5.9" height="5.9" fill="#f9f4ff"/>
<rect x="207.57" y="361.02" width="5.9" height="5.9" fill="#f0e5ff"/>
<rect x="213.80" y="361.02" width="5.9" height="5.9" fill="#ffeae3"/>
<rect x="226.28" y="361.02" width="5.9" height="5.9" fill="#e5d2ff"/>
<rect x="238.75" y="361.02" width="5.9" height="5.9" fill="#f0e5ff"/>
<rect x="244.98" y="361.02" width="5.9" height="5.9" fill="#ebdcff"/>
<rect x="251.22" y="361.02" width="5.9" height="5.9" fill="#fefdff"/>
<rect x="257.46" y="361.02" width="5.9" height="5.9" fill="#f5edff"/>
<rect x="263.69" y="361.02" width="5.9" height="5.9" fill="#fff9f6"/>
<rect x="269.93" y="361.02" width="5.9" height="5.9" fill="#fff9f6"/>
<rect x="288.64" y="361.02" width="5.9" height="5.9" fill="#fff6f3"/>
<rect x="301.11" y="361.02" width="5.9" height="5.9" fill="#fff6f3"/>
<rect x="319.82" y="361.02" width="5.9" height="5.9" fill="#f5edff"/>
<rect x="326.05" y="361.02" width="5.9" height="5.9" fill="#fff1eb"/>
<rect x="332.29" y="361.02" width="5.9" height="5.9" fill="#ebdcff"/>
<rect x="338.52" y="361.02" width="5.9" height="5.9" fill="#fff6f3"/>
<rect x="357.23" y="361.02" width="5.9" height="5.9" fill="#fefdff"/>
<rect x="375.94" y="361.02" width="5.9" height="5.9" fill="#d7bcff"/>
<rect x="382.18" y="361.02" width="5.9" height="5.9" fill="#fff1eb"/>
<rect x="388.41" y="361.02" width="5.9" height="5.9" fill="#ffcab7"/>
<rect x="394.65" y="361.02" width="5.9" height="5.9" fill="#fefdff"/>
<rect x="400.88" y="361.02" width="5.9" height="5.9" fill="#ffeae3"/>
<rect x="407.12" y="361.02" width="5.9" height="5.9" fill="#f0e5ff"/>
<rect x="413.36" y="361.02" width="5.9" height="5.9" fill="#f9f4ff"/>
<rect x="138.97" y="367.26" width="5.9" height="5.9" fill="#ffe3d9"/>
<rect x="163.92" y="367.26" width="5.9" height="5.9" fill="#fefcff"/>
<rect x="176.39" y="367.26" width="5.9" height="5.9" fill="#fdfcff"/>
<rect x="182.62" y="367.26" width="5.9" height="5.9" fill="#fffdfd"/>
<rect x="195.10" y="367.26" width="5.9" height="5.9" fill="#fdfbff"/>
<rect x="201.33" y="367.26" width="5.9" height="5.9" fill="#fdfbff"/>
<rect x="207.57" y="367.26" width="5.9" height="5.9" fill="#b38bff"/>
<rect x="213.80" y="367.26" width="5.9" height="5.9" fill="#ffae95"/>
<rect x="294.87" y="367.26" width="5.9" height="5.9" fill="#fbf7ff"/>
<rect x="332.29" y="367.26" width="5.9" height="5.9" fill="#fffdfc"/>
<rect x="375.94" y="367.26" width="5.9" height="5.9" fill="#fefeff"/>
<rect x="413.36" y="367.26" width="5.9" height="5.9" fill="#fefdff"/>
<rect x="425.83" y="367.26" width="5.9" height="5.9" fill="#fffefd"/>
<rect x="432.06" y="367.26" width="5.9" height="5.9" fill="#fdfcff"/>
<rect x="145.21" y="373.49" width="5.9" height="5.9" fill="#ff7453"/>
<rect x="170.15" y="373.49" width="5.9" height="5.9" fill="#fff9f6"/>
<rect x="195.10" y="373.49" width="5.9" height="5.9" fill="#fbf7ff"/>
<rect x="201.33" y="373.49" width="5.9" height="5.9" fill="#fffdfc"/>
<rect x="207.57" y="373.49" width="5.9" height="5.9" fill="#ff0000"/>
<rect x="213.80" y="373.49" width="5.9" height="5.9" fill="#0000ff"/>
<rect x="226.28" y="373.49" width="5.9" height="5.9" fill="#fff9f6"/>
<rect x="238.75" y="373.49" width="5.9" height="5.9" fill="#fefdff"/>
<rect x="244.98" y="373.49" width="5.9" height="5.9" fill="#fbf7ff"/>
<rect x="257.46" y="373.49" width="5.9" height="5.9" fill="#fffcfb"/>
<rect x="269.93" y="373.49" width="5.9" height="5.9" fill="#fdfbff"/>
<rect x="282.40" y="373.49" width="5.9" height="5.9" fill="#fffcfb"/>
<rect x="288.64" y="373.49" width="5.9" height="5.9" fill="#fffdfc"/>
<rect x="313.58" y="373.49" width="5.9" height="5.9" fill="#fffcfb"/>
<rect x="319.82" y="373.49" width="5.9" height="5.9" fill="#f5edff"/>
<rect x="326.05" y="373.49" width="5.9" height="5.9" fill="#fff9f6"/>
<rect x="332.29" y="373.49" width="5.9" height="5.9" fill="#fffdfc"/>
<rect x="351.00" y="373.49" width="5.9" height="5.9" fill="#fffcfb"/>
<rect x="357.23" y="373.49" width="5.9" height="5.9" fill="#fffcfb"/>
<rect x="375.94" y="373.49" width="5.9" height="5.9" fill="#fff9f6"/>
<rect x="382.18" y="373.49" width="5.9" height="5.9" fill="#fff9f6"/>
<rect x="400.88" y="373.49" width="5.9" height="5.9" fill="#fffdfc"/>
<rect x="413.36" y="373.49" width="5.9" height="5.9" fill="#fffefd"/>
<rect x="419.59" y="373.49" width="5.9" height="5.9" fill="#fefdff"/>
<rect x="432.06" y="373.49" width="5.9" height="5.9" fill="#fffdfc"/>
<rect x="126.50" y="379.73" width="5.9" height="5.9" fill="#ffd3c4"/>
<rect x="176.39" y="379.73" width="5.9" height="5.9" fill="#fffcfb"/>
<rect x="182.62" y="379.73" width="5.9" height="5.9" fill="#f5edff"/>
<rect x="188.86" y="379.73" width="5.9" height="5.9" fill="#fff1eb"/>
<rect x="226.28" y="379.73" width="5.9" height="5.9" fill="#fffefd"/>
<rect x="232.51" y="379.73" width="5.9" height="5.9" fill="#fffefd"/>
<rect x="251.22" y="379.73" width="5.9" height="5.9" fill="#fefdff"/>
<rect x="276.16" y="379.73" width="5.9" height="5.9" fill="#fdfcff"/>
<rect x="282.40" y="379.73" width="5.9" height="5.9" fill="#fffcfb"/>
<rect x="332.29" y="379.73" width="5.9" height="5.9" fill="#ebdcff"/>
<rect x="338.52" y="379.73" width="5.9" height="5.9" fill="#ffcab7"/>
<rect x="357.23" y="379.73" width="5.9" height="5.9" fill="#fffcfb"/>
<rect x="369.70" y="379.73" width="5.9" height="5.9" fill="#fefdff"/>
<rect x="382.18" y="379.73" width="5.9" height="5.9" fill="#fffdfc"/>
<rect x="394.65" y="379.73" width="5.9" height="5.9" fill="#fffdfc"/>
<rect x="413.36" y="379.73" width="5.9" height="5.9" fill="#fff9f6"/>
<rect x="425.83" y="379.73" width="5.9" height="5.9" fill="#fffefd"/>
<rect x="126.50" y="385.96" width="5.9" height="5.9" fill="#fffdfd"/>
<rect x="132.74" y="385.96" width="5.9" height="5.9" fill="#ffc3af"/>
<rect x="163.92" y="385.96" width="5.9" height="5.9" fill="#fefcff"/>
<rect x="182.62" y="385.96" width="5.9" height="5.9" fill="#f5edff"/>
<rect x="188.86" y="385.96" width="5.9" height="5.9" fill="#f0e5ff"/>
<rect x="201.33" y="385.96" width="5.9" height="5.9" fill="#fffdfd"/>
<rect x="226.28" y="385.96" width="5.9" height="5.9" fill="#fffdfd"/>
<rect x="232.51" y="385.96" width="5.9" height="5.9" fill="#fdfbff"/>
<rect x="244.98" y="385.96" width="5.9" height="5.9" fill="#fffefd"/>
<rect x="269.93" y="385.96" width="5.9" height="5.9" fill="#fefdff"/>
<rect x="282.40" y="385.96" width="5.9" height="5.9" fill="#fffefd"/>
<rect x="294.87" y="385.96" width="5.9" height="5.9" fill="#fefcff"/>
<rect x="338.52" y="385.96" width="5.9" height="5.9" fill="#dec8ff"/>
<rect x="357.23" y="385.96" width="5.9" height="5.9" fill="#fefdff"/>
<rect x="369.70" y="385.96" width="5.9" height="5.9" fill="#fffcfc"/>
<rect x="382.18" y="385.96" width="5.9" height="5.9" fill="#fffefd"/>
<rect x="388.41" y="385.96" width="5.9" height="5.9" fill="#fffcfb"/>
<rect x="400.88" y="385.96" width="5.9" height="5.9" fill="#fdfcff"/>
<rect x="407.12" y="385.96" width="5.9" height="5.9" fill="#fdfcff"/>
<rect x="413.36" y="385.96" width="5.9" height="5.9" fill="#f0e5ff"/>
<rect x="432.06" y="385.96" width="5.9" height="5.9" fill="#fdfbff"/>
</g>
<path d="M129.07 79.60h0.9M129.07 392.50h0.9M125.90 82.97v0.9M438.50 82.97v0.9M135.30 79.60h0.9M135.30 392.50h0.9M125.90 89.20v0.9M438.50 89.20v0.9M141.54 79.60h0.9M141.54 392.50h0.9M125.90 95.44v0.9M438.50 95.44v0.9M147.78 79.60h0.9M147.78 392.50h0.9M125.90 101.68v0.9M438.50 101.68v0.9M154.01 79.60h0.9M154.01 392.50h0.9M125.90 107.91v0.9M438.50 107.91v0.9M160.25 79.60h0.9M160.25 392.50h0.9M125.90 114.15v0.9M438.50 114.15v0.9M166.48 79.60h0.9M166.48 392.50h0.9M125.90 120.38v0.9M438.50 120.38v0.9M172.72 79.60h0.9M172.72 392.50h0.9M125.90 126.62v0.9M438.50 126.62v0.9M178.96 79.60h0.9M178.96 392.50h0.9M125.90 132.86v0.9M438.50 132.86v0.9M185.19 79.60h0.9M185.19 392.50h0.9M125.90 139.09v0.9M438.50 139.09v0.9M191.43 79.60h0.9M191.43 392.50h0.9M125.90 145.33v0.9M438.50 145.33v0.9M197.66 79.60h0.9M197.66 392.50h0.9M125.90 151.56v0.9M438.50 151.56v0.9M203.90 79.60h0.9M203.90 392.50h0.9M125.90 157.80v0.9M438.50 157.80v0.9M210.14 79.60h0.9M210.14 392.50h0.9M125.90 164.04v0.9M438.50 164.04v0.9M216.37 79.60h0.9M216.37 392.50h0.9M125.90 170.27v0.9M438.50 170.27v0.9M222.61 79.60h0.9M222.61 392.50h0.9M125.90 176.51v0.9M438.50 176.51v0.9M228.84 79.60h0.9M228.84 392.50h0.9M125.90 182.74v0.9M438.50 182.74v0.9M235.08 79.60h0.9M235.08 392.50h0.9M125.90 188.98v0.9M438.50 188.98v0.9M241.32 79.60h0.9M241.32 392.50h0.9M125.90 195.22v0.9M438.50 195.22v0.9M247.55 79.60h0.9M247.55 392.50h0.9M125.90 201.45v0.9M438.50 201.45v0.9M253.79 79.60h0.9M253.79 392.50h0.9M125.90 207.69v0.9M438.50 207.69v0.9M260.02 79.60h0.9M260.02 392.50h0.9M125.90 213.92v0.9M438.50 213.92v0.9M266.26 79.60h0.9M266.26 392.50h0.9M125.90 220.16v0.9M438.50 220.16v0.9M272.50 79.60h0.9M272.50 392.50h0.9M125.90 226.40v0.9M438.50 226.40v0.9M278.73 79.60h0.9M278.73 392.50h0.9M125.90 232.63v0.9M438.50 232.63v0.9M284.97 79.60h0.9M284.97 392.50h0.9M125.90 238.87v0.9M438.50 238.87v0.9M291.20 79.60h0.9M291.20 392.50h0.9M125.90 245.10v0.9M438.50 245.10v0.9M297.44 79.60h0.9M297.44 392.50h0.9M125.90 251.34v0.9M438.50 251.34v0.9M303.68 79.60h0.9M303.68 392.50h0.9M125.90 257.58v0.9M438.50 257.58v0.9M309.91 79.60h0.9M309.91 392.50h0.9M125.90 263.81v0.9M438.50 263.81v0.9M316.15 79.60h0.9M316.15 392.50h0.9M125.90 270.05v0.9M438.50 270.05v0.9M322.38 79.60h0.9M322.38 392.50h0.9M125.90 276.28v0.9M438.50 276.28v0.9M328.62 79.60h0.9M328.62 392.50h0.9M125.90 282.52v0.9M438.50 282.52v0.9M334.86 79.60h0.9M334.86 392.50h0.9M125.90 288.76v0.9M438.50 288.76v0.9M341.09 79.60h0.9M341.09 392.50h0.9M125.90 294.99v0.9M438.50 294.99v0.9M347.33 79.60h0.9M347.33 392.50h0.9M125.90 301.23v0.9M438.50 301.23v0.9M353.56 79.60h0.9M353.56 392.50h0.9M125.90 307.46v0.9M438.50 307.46v0.9M359.80 79.60h0.9M359.80 392.50h0.9M125.90 313.70v0.9M438.50 313.70v0.9M366.04 79.60h0.9M366.04 392.50h0.9M125.90 319.94v0.9M438.50 319.94v0.9M372.27 79.60h0.9M372.27 392.50h0.9M125.90 326.17v0.9M438.50 326.17v0.9M378.51 79.60h0.9M378.51 392.50h0.9M125.90 332.41v0.9M438.50 332.41v0.9M384.74 79.60h0.9M384.74 392.50h0.9M125.90 338.64v0.9M438.50 338.64v0.9M390.98 79.60h0.9M390.98 392.50h0.9M125.90 344.88v0.9M438.50 344.88v0.9M397.22 79.60h0.9M397.22 392.50h0.9M125.90 351.12v0.9M438.50 351.12v0.9M403.45 79.60h0.9M403.45 392.50h0.9M125.90 357.35v0.9M438.50 357.35v0.9M409.69 79.60h0.9M409.69 392.50h0.9M125.90 363.59v0.9M438.50 363.59v0.9M415.92 79.60h0.9M415.92 392.50h0.9M125.90 369.82v0.9M438.50 369.82v0.9M422.16 79.60h0.9M422.16 392.50h0.9M125.90 376.06v0.9M438.50 376.06v0.9M428.40 79.60h0.9M428.40 392.50h0.9M125.90 382.30v0.9M438.50 382.30v0.9M434.63 79.60h0.9M434.63 392.50h0.9M125.90 388.53v0.9M438.50 388.53v0.9" stroke="#ececec" stroke-width="0.7" fill="none"/>
<g class="t" text-anchor="end">
<text x="121.20" y="88.09">Basophils number</text>
<text x="121.20" y="94.32">Basophils percent</text>
<text x="121.20" y="100.56">Eosinophils number</text>
<text x="121.20" y="106.79">Eosinophils percent</text>
<text x="121.20" y="113.03">Systolic Blood pres</text>
<text x="121.20" y="119.27">Diastolic Blood pres</text>
<text x="121.20" y="125.50">Arm Circumference</text>
<text x="121.20" y="131.74">Weight</text>
<text x="121.20" y="137.97">Waist Circumference</text>
<text x="121.20" y="144.21">Body Mass Index</text>
<text x="121.20" y="150.45">Lactate dehydrogenase LDH</text>
<text x="121.20" y="156.68">Alkaline phosphotase</text>
<text x="121.20" y="162.92">Aspartate aminotransferase AST</text>
<text x="121.20" y="169.15">Alanine aminotransferase ALT</text>
<text x="121.20" y="175.39">Gamma glutamyl transferase</text>
<text x="121.20" y="181.63">Lymphocyte number</text>
<text x="121.20" y="187.86">Lymphocyte percent</text>
<text x="121.20" y="194.10">Osmolality</text>
<text x="121.20" y="200.33">Sodium</text>
<text x="121.20" y="206.57">Chloride</text>
<text x="121.20" y="212.81">Mean platelet volume</text>
<text x="121.20" y="219.04">Albumin, urine</text>
<text x="121.20" y="225.28">Red cell distribution width</text>
<text x="121.20" y="231.51">Glucose, serum</text>
<text x="121.20" y="237.75">Glycohemoglobin</text>
<text x="121.20" y="243.99">Total protein</text>
<text x="121.20" y="250.22">Albumin</text>
<text x="121.20" y="256.46">Total calcium</text>
<text x="121.20" y="262.69">Bicarbonate</text>
<text x="121.20" y="268.93">Creatinine</text>
<text x="121.20" y="275.17">Blood urea nitrogen</text>
<text x="121.20" y="281.40">Potassium</text>
<text x="121.20" y="287.64">Upper Arm Length</text>
<text x="121.20" y="293.87">Standing Height</text>
<text x="121.20" y="300.11">Upper Leg Length</text>
<text x="121.20" y="306.35">Hematocrit</text>
<text x="121.20" y="312.58">Red blood cell count</text>
<text x="121.20" y="318.82">Total bilirubin</text>
<text x="121.20" y="325.05">Iron, refigerated</text>
<text x="121.20" y="331.29">Monocyte number</text>
<text x="121.20" y="337.53">Monocyte percent</text>
<text x="121.20" y="343.76">Cholesterol</text>
<text x="121.20" y="350.00">Triglycerides</text>
<text x="121.20" y="356.23">Phosphorus</text>
<text x="121.20" y="362.47">Platelet count</text>
<text x="121.20" y="368.71">60 sec. pulse</text>
<text x="121.20" y="374.94">Mean cell hemoglobin</text>
<text x="121.20" y="381.18">MCHC</text>
<text x="121.20" y="387.41">Segmented neutrophils number</text>
<text x="121.20" y="393.65">Segmented neutrophils percent</text>
</g>
<g class="t" text-anchor="end">
<text transform="translate(134.74,397.20) rotate(-90)">Segmented neutrophils percent</text>
<text transform="translate(140.97,397.20) rotate(-90)">Segmented neutrophils number</text>
<text transform="translate(147.21,397.20) rotate(-90)">MCHC</text>
<text transform="translate(153.44,397.20) rotate(-90)">Mean cell hemoglobin</text>
<text transform="translate(159.68,397.20) rotate(-90)">60 sec. pulse</text>
<text transform="translate(165.92,397.20) rotate(-90)">Platelet count</text>
<text transform="translate(172.15,397.20) rotate(-90)">Phosphorus</text>
<text transform="translate(178.39,397.20) rotate(-90)">Triglycerides</text>
<text transform="translate(184.62,397.20) rotate(-90)">Cholesterol</text>
<text transform="translate(190.86,397.20) rotate(-90)">Monocyte percent</text>
<text transform="translate(197.10,397.20) rotate(-90)">Monocyte number</text>
<text transform="translate(203.33,397.20) rotate(-90)">Iron, refigerated</text>
<text transform="translate(209.57,397.20) rotate(-90)">Total bilirubin</text>
<text transform="translate(215.80,397.20) rotate(-90)">Red blood cell count</text>
<text transform="translate(222.04,397.20) rotate(-90)">Hematocrit</text>
<text transform="translate(228.28,397.20) rotate(-90)">Upper Leg Length</text>
<text transform="translate(234.51,397.20) rotate(-90)">Standing Height</text>
<text transform="translate(240.75,397.20) rotate(-90)">Upper Arm Length</text>
<text transform="translate(246.98,397.20) rotate(-90)">Potassium</text>
<text transform="translate(253.22,397.20) rotate(-90)">Blood urea nitrogen</text>
<text transform="translate(259.46,397.20) rotate(-90)">Creatinine</text>
<text transform="translate(265.69,397.20) rotate(-90)">Bicarbonate</text>
<text transform="translate(271.93,397.20) rotate(-90)">Total calcium</text>
<text transform="translate(278.16,397.20) rotate(-90)">Albumin</text>
<text transform="translate(284.40,397.20) rotate(-90)">Total protein</text>
<text transform="translate(290.64,397.20) rotate(-90)">Glycohemoglobin</text>
<text transform="translate(296.87,397.20) rotate(-90)">Glucose, serum</text>
<text transform="translate(303.11,397.20) rotate(-90)">Red cell distribution width</text>
<text transform="translate(309.34,397.20) rotate(-90)">Albumin, urine</text>
<text transform="translate(315.58,397.20) rotate(-90)">Mean platelet volume</text>
<text transform="translate(321.82,397.20) rotate(-90)">Chloride</text>
<text transform="translate(328.05,397.20) rotate(-90)">Sodium</text>
<text transform="translate(334.29,397.20) rotate(-90)">Osmolality</text>
<text transform="translate(340.52,397.20) rotate(-90)">Lymphocyte percent</text>
<text transform="translate(346.76,397.20) rotate(-90)">Lymphocyte number</text>
<text transform="translate(353.00,397.20) rotate(-90)">Gamma glutamyl transferase</text>
<text transform="translate(359.23,397.20) rotate(-90)">Alanine aminotransferase ALT</text>
<text transform="translate(365.47,397.20) rotate(-90)">Aspartate aminotransferase AST</text>
<text transform="translate(371.70,397.20) rotate(-90)">Alkaline phosphotase</text>
<text transform="translate(377.94,397.20) rotate(-90)">Lactate dehydrogenase LDH</text>
<text transform="translate(384.18,397.20) rotate(-90)">Body Mass Index</text>
<text transform="translate(390.41,397.20) rotate(-90)">Waist Circumference</text>
<text transform="translate(396.65,397.20) rotate(-90)">Weight</text>
<text transform="translate(402.88,397.20) rotate(-90)">Arm Circumference</text>
<text transform="translate(409.12,397.20) rotate(-90)">Diastolic Blood pres</text>
<text transform="translate(415.36,397.20) rotate(-90)">Systolic Blood pres</text>
<text transform="translate(421.59,397.20) rotate(-90)">Eosinophils percent</text>
<text transform="translate(427.83,397.20) rotate(-90)">Eosinophils number</text>
<text transform="translate(434.06,397.20) rotate(-90)">Basophils percent</text>
<text transform="translate(440.30,397.20) rotate(-90)">Basophils number</text>
</g>
<text class="k" font-size="10" text-anchor="middle" transform="translate(12.6,236) rotate(-90)">Biomarker2</text>
<text class="k" font-size="10" text-anchor="middle" x="281.6" y="511.3">Biomarker1</text>
<text class="k" font-size="10" x="453" y="198">Coefficient</text>
<defs><linearGradient id="cb" x1="0" y1="1" x2="0" y2="0">
<stop offset="0.000" stop-color="#0000ff"/>
<stop offset="0.050" stop-color="#502bff"/>
<stop offset="0.100" stop-color="#7246ff"/>
<stop offset="0.150" stop-color="#8b5eff"/>
<stop offset="0.200" stop-color="#a176ff"/>
<stop offset="0.250" stop-color="#b48dff"/>
<stop offset="0.300" stop-color="#c6a4ff"/>
<stop offset="0.350" stop-color="#d6bbff"/>
<stop offset="0.400" stop-color="#e5d2ff"/>
<stop offset="0.450" stop-color="#f3eaff"/>
<stop offset="0.500" stop-color="#fffdfc"/>
<stop offset="0.550" stop-color="#ffeae2"/>
<stop offset="0.600" stop-color="#ffd7c9"/>
<stop offset="0.650" stop-color="#ffc4b0"/>
<stop offset="0.700" stop-color="#ffb098"/>
<stop offset="0.750" stop-color="#ff9d80"/>
<stop offset="0.800" stop-color="#ff8868"/>
<stop offset="0.850" stop-color="#ff7251"/>
<stop offset="0.900" stop-color="#ff5a3a"/>
<stop offset="0.950" stop-color="#ff3d21"/>
<stop offset="1.000" stop-color="#ff0000"/>
</linearGradient></defs>
<rect x="453.1" y="204.5" width="16.2" height="77.5" fill="url(#cb)"/>
<path d="M453.1 216.40h3.2M469.3 216.40h-3.2" stroke="#fff" stroke-width="0.5"/>
<text class="k" font-size="8.7" x="474.2" y="219.50">2</text>
<path d="M453.1 230.10h3.2M469.3 230.10h-3.2" stroke="#fff" stroke-width="0.5"/>
<text class="k" font-size="8.7" x="474.2" y="233.20">1</text>
<path d="M453.1 243.80h3.2M469.3 243.80h-3.2" stroke="#fff" stroke-width="0.5"/>
<text class="k" font-size="8.7" x="474.2" y="246.90">0</text>
<path d="M453.1 257.50h3.2M469.3 257.50h-3.2" stroke="#fff" stroke-width="0.5"/>
<text class="k" font-size="8.7" x="474.2" y="260.60">−1</text>
<path d="M453.1 271.20h3.2M469.3 271.20h-3.2" stroke="#fff" stroke-width="0.5"/>
<text class="k" font-size="8.7" x="474.2" y="274.30">−2</text>
</g>
<g id="panelB">
<text class="k" stroke="#000" stroke-width="0.45" transform="translate(538.1,34.0) scale(0.845,1)" font-size="38.9">B</text>
<rect x="563.0" y="56.5" width="451.3" height="389.1" fill="#ebebeb"/>
<path d="M641.30 56.5V445.6M741.70 56.5V445.6M842.10 56.5V445.6M942.50 56.5V445.6M563.0 352.55H1014.3M563.0 240.05H1014.3M563.0 127.55H1014.3" stroke="#fff" stroke-width="0.7" fill="none"/>
<path d="M591.10 56.5V445.6M691.50 56.5V445.6M791.90 56.5V445.6M892.30 56.5V445.6M992.70 56.5V445.6M563.0 408.80H1014.3M563.0 296.30H1014.3M563.0 183.80H1014.3M563.0 71.30H1014.3" stroke="#fff" stroke-width="1.1" fill="none"/>
<path d="M591.10 445.6v2.7M691.50 445.6v2.7M791.90 445.6v2.7M892.30 445.6v2.7M992.70 445.6v2.7M563.0 408.80h-2.7M563.0 296.30h-2.7M563.0 183.80h-2.7M563.0 71.30h-2.7" stroke="#333" stroke-width="1.1" fill="none"/>
<g class="g" font-size="17.85" text-anchor="end">
<text x="558" y="415.40">0</text>
<text x="558" y="302.90">20</text>
<text x="558" y="190.40">40</text>
<text x="558" y="77.90">60</text>
</g>
<g class="g" font-size="17.85" text-anchor="middle">
<text x="591.10" y="463.2">−0.02</text>
<text x="691.50" y="463.2">−0.01</text>
<text x="791.90" y="463.2">0.00</text>
<text x="892.30" y="463.2">0.01</text>
<text x="992.70" y="463.2">0.02</text>
</g>
<text class="k" font-size="27.1" text-anchor="middle" transform="translate(788.9,487.1) scale(1,1.06)">Coefficients</text>
<text class="k" font-size="26.55" text-anchor="middle" transform="translate(534.8,251) rotate(-90) scale(1,1.06)">neg−log−p−value</text>
<g fill-opacity="0.6">
<circle cx="796.4" cy="420.8" r="2.3" fill="#ff0000"/>
<circle cx="771.8" cy="415.1" r="2.3" fill="#00ff00"/>
<circle cx="795.3" cy="426.4" r="2.3" fill="#ff0000"/>
<circle cx="793.1" cy="423.3" r="2.3" fill="#ff0000"/>
<circle cx="795.0" cy="420.5" r="2.3" fill="#ffa500"/>
<circle cx="799.3" cy="418.4" r="2.3" fill="#ffff00"/>
<circle cx="797.4" cy="414.7" r="2.3" fill="#ff0000"/>
<circle cx="796.7" cy="414.3" r="2.3" fill="#ff0000"/>
<circle cx="794.2" cy="419.4" r="2.3" fill="#ff0000"/>
<circle cx="777.5" cy="418.4" r="2.3" fill="#a020f0"/>
<circle cx="778.9" cy="415.7" r="2.3" fill="#00ff00"/>
<circle cx="781.4" cy="425.1" r="2.3" fill="#0000ff"/>
<circle cx="796.8" cy="416.0" r="2.3" fill="#ffa500"/>
<circle cx="781.5" cy="405.7" r="2.3" fill="#0000ff"/>
<circle cx="804.5" cy="414.0" r="2.3" fill="#ff0000"/>
<circle cx="799.6" cy="417.8" r="2.3" fill="#ffa500"/>
<circle cx="771.8" cy="417.6" r="2.3" fill="#00ff00"/>
<circle cx="799.2" cy="412.7" r="2.3" fill="#ffa500"/>
<circle cx="776.7" cy="417.1" r="2.3" fill="#0000ff"/>
<circle cx="803.0" cy="420.0" r="2.3" fill="#ffff00"/>
<circle cx="783.5" cy="412.9" r="2.3" fill="#0000ff"/>
<circle cx="792.6" cy="415.3" r="2.3" fill="#ff0000"/>
<circle cx="795.7" cy="420.7" r="2.3" fill="#ff0000"/>
<circle cx="803.3" cy="422.7" r="2.3" fill="#ffff00"/>
<circle cx="791.9" cy="420.8" r="2.3" fill="#ffa500"/>
<circle cx="797.7" cy="410.9" r="2.3" fill="#ffa500"/>
<circle cx="791.6" cy="413.3" r="2.3" fill="#ff0000"/>
<circle cx="793.6" cy="426.7" r="2.3" fill="#ffa500"/>
<circle cx="783.8" cy="424.5" r="2.3" fill="#00ff00"/>
<circle cx="798.1" cy="410.9" r="2.3" fill="#ffff00"/>
<circle cx="783.7" cy="415.1" r="2.3" fill="#0000ff"/>
<circle cx="771.8" cy="418.0" r="2.3" fill="#00ff00"/>
<circle cx="798.4" cy="417.0" r="2.3" fill="#ff0000"/>
<circle cx="787.5" cy="412.1" r="2.3" fill="#a020f0"/>
<circle cx="802.8" cy="423.9" r="2.3" fill="#ffff00"/>
<circle cx="797.6" cy="419.8" r="2.3" fill="#ff0000"/>
<circle cx="781.4" cy="421.7" r="2.3" fill="#0000ff"/>
<circle cx="773.1" cy="418.2" r="2.3" fill="#0000ff"/>
<circle cx="779.7" cy="416.1" r="2.3" fill="#00ff00"/>
<circle cx="800.7" cy="420.1" r="2.3" fill="#ff0000"/>
<circle cx="794.9" cy="422.6" r="2.3" fill="#ffa500"/>
<circle cx="775.4" cy="410.3" r="2.3" fill="#0000ff"/>
<circle cx="784.1" cy="419.6" r="2.3" fill="#0000ff"/>
<circle cx="788.3" cy="422.5" r="2.3" fill="#0000ff"/>
<circle cx="805.1" cy="420.3" r="2.3" fill="#ffa500"/>
<circle cx="777.2" cy="420.6" r="2.3" fill="#a020f0"/>
<circle cx="802.8" cy="417.5" r="2.3" fill="#ffa500"/>
<circle cx="774.4" cy="418.9" r="2.3" fill="#00ff00"/>
<circle cx="797.0" cy="422.7" r="2.3" fill="#ffff00"/>
<circle cx="787.5" cy="422.4" r="2.3" fill="#0000ff"/>
<circle cx="805.1" cy="415.0" r="2.3" fill="#ffff00"/>
<circle cx="770.6" cy="414.2" r="2.3" fill="#00ff00"/>
<circle cx="784.1" cy="417.5" r="2.3" fill="#00ff00"/>
<circle cx="800.7" cy="416.5" r="2.3" fill="#ff0000"/>
<circle cx="795.8" cy="423.1" r="2.3" fill="#ff0000"/>
<circle cx="797.7" cy="426.8" r="2.3" fill="#ff0000"/>
<circle cx="796.7" cy="410.7" r="2.3" fill="#ffff00"/>
<circle cx="787.9" cy="406.4" r="2.3" fill="#0000ff"/>
<circle cx="792.1" cy="427.5" r="2.3" fill="#ffa500"/>
<circle cx="792.3" cy="417.3" r="2.3" fill="#ff0000"/>
<circle cx="795.2" cy="421.5" r="2.3" fill="#ff0000"/>
<circle cx="783.4" cy="415.2" r="2.3" fill="#0000ff"/>
<circle cx="779.7" cy="413.7" r="2.3" fill="#00ff00"/>
<circle cx="778.7" cy="417.7" r="2.3" fill="#00ff00"/>
<circle cx="794.8" cy="421.2" r="2.3" fill="#ff0000"/>
<circle cx="770.9" cy="416.5" r="2.3" fill="#0000ff"/>
<circle cx="802.9" cy="419.5" r="2.3" fill="#ff0000"/>
<circle cx="787.6" cy="425.9" r="2.3" fill="#0000ff"/>
<circle cx="781.1" cy="417.4" r="2.3" fill="#00ff00"/>
<circle cx="796.9" cy="417.0" r="2.3" fill="#ffa500"/>
<circle cx="775.8" cy="414.0" r="2.3" fill="#00ff00"/>
<circle cx="786.2" cy="423.3" r="2.3" fill="#a020f0"/>
<circle cx="798.1" cy="417.7" r="2.3" fill="#ffa500"/>
<circle cx="780.0" cy="409.0" r="2.3" fill="#0000ff"/>
<circle cx="793.6" cy="422.9" r="2.3" fill="#ff0000"/>
<circle cx="796.4" cy="417.0" r="2.3" fill="#ff0000"/>
<circle cx="797.7" cy="415.8" r="2.3" fill="#ff0000"/>
<circle cx="786.8" cy="411.9" r="2.3" fill="#0000ff"/>
<circle cx="787.5" cy="420.4" r="2.3" fill="#0000ff"/>
<circle cx="788.5" cy="418.8" r="2.3" fill="#0000ff"/>
<circle cx="785.0" cy="420.2" r="2.3" fill="#00ff00"/>
<circle cx="782.3" cy="420.4" r="2.3" fill="#00ff00"/>
<circle cx="794.7" cy="414.8" r="2.3" fill="#ffa500"/>
<circle cx="782.3" cy="414.1" r="2.3" fill="#0000ff"/>
<circle cx="788.4" cy="419.4" r="2.3" fill="#a020f0"/>
<circle cx="775.4" cy="418.7" r="2.3" fill="#a020f0"/>
<circle cx="786.9" cy="417.4" r="2.3" fill="#0000ff"/>
<circle cx="784.1" cy="412.6" r="2.3" fill="#0000ff"/>
<circle cx="776.7" cy="419.1" r="2.3" fill="#a020f0"/>
<circle cx="793.7" cy="416.8" r="2.3" fill="#ffa500"/>
<circle cx="775.5" cy="412.3" r="2.3" fill="#00ff00"/>
<circle cx="796.5" cy="421.3" r="2.3" fill="#ffa500"/>
<circle cx="784.9" cy="426.0" r="2.3" fill="#0000ff"/>
<circle cx="791.9" cy="422.2" r="2.3" fill="#ff0000"/>
<circle cx="780.2" cy="414.9" r="2.3" fill="#00ff00"/>
<circle cx="794.0" cy="413.4" r="2.3" fill="#ff0000"/>
<circle cx="771.8" cy="415.4" r="2.3" fill="#a020f0"/>
<circle cx="785.1" cy="416.0" r="2.3" fill="#0000ff"/>
<circle cx="777.5" cy="422.2" r="2.3" fill="#0000ff"/>
<circle cx="797.9" cy="414.0" r="2.3" fill="#ff0000"/>
<circle cx="778.7" cy="422.0" r="2.3" fill="#00ff00"/>
<circle cx="782.5" cy="414.1" r="2.3" fill="#00ff00"/>
<circle cx="784.7" cy="421.7" r="2.3" fill="#0000ff"/>
<circle cx="776.3" cy="410.3" r="2.3" fill="#00ff00"/>
<circle cx="807.3" cy="418.7" r="2.3" fill="#ffa500"/>
<circle cx="783.0" cy="420.7" r="2.3" fill="#00ff00"/>
<circle cx="798.4" cy="419.2" r="2.3" fill="#ffa500"/>
<circle cx="788.9" cy="412.6" r="2.3" fill="#0000ff"/>
<circle cx="803.2" cy="416.3" r="2.3" fill="#ffff00"/>
<circle cx="792.7" cy="426.3" r="2.3" fill="#ff0000"/>
<circle cx="793.2" cy="418.1" r="2.3" fill="#ffa500"/>
<circle cx="806.4" cy="419.5" r="2.3" fill="#ffff00"/>
<circle cx="780.5" cy="415.8" r="2.3" fill="#0000ff"/>
<circle cx="805.8" cy="419.3" r="2.3" fill="#ffff00"/>
<circle cx="789.2" cy="422.3" r="2.3" fill="#0000ff"/>
<circle cx="781.8" cy="425.0" r="2.3" fill="#a020f0"/>
<circle cx="771.1" cy="413.3" r="2.3" fill="#a020f0"/>
<circle cx="792.4" cy="417.2" r="2.3" fill="#ff0000"/>
<circle cx="797.6" cy="423.0" r="2.3" fill="#ff0000"/>
<circle cx="777.5" cy="419.6" r="2.3" fill="#00ff00"/>
<circle cx="783.3" cy="412.8" r="2.3" fill="#0000ff"/>
<circle cx="803.2" cy="421.0" r="2.3" fill="#ff0000"/>
<circle cx="772.4" cy="408.9" r="2.3" fill="#00ff00"/>
<circle cx="792.0" cy="414.9" r="2.3" fill="#ffa500"/>
<circle cx="793.1" cy="416.7" r="2.3" fill="#ffa500"/>
<circle cx="775.1" cy="405.4" r="2.3" fill="#00ff00"/>
<circle cx="803.3" cy="415.7" r="2.3" fill="#ffa500"/>
<circle cx="787.9" cy="415.3" r="2.3" fill="#0000ff"/>
<circle cx="797.4" cy="420.4" r="2.3" fill="#ffff00"/>
<circle cx="778.7" cy="407.9" r="2.3" fill="#a020f0"/>
<circle cx="794.3" cy="414.5" r="2.3" fill="#ff0000"/>
<circle cx="784.1" cy="417.6" r="2.3" fill="#00ff00"/>
<circle cx="771.0" cy="410.7" r="2.3" fill="#a020f0"/>
<circle cx="776.5" cy="420.0" r="2.3" fill="#00ff00"/>
<circle cx="794.9" cy="410.3" r="2.3" fill="#ff0000"/>
<circle cx="792.8" cy="425.2" r="2.3" fill="#ff0000"/>
<circle cx="805.0" cy="420.9" r="2.3" fill="#ff0000"/>
<circle cx="777.9" cy="414.6" r="2.3" fill="#00ff00"/>
<circle cx="779.9" cy="416.1" r="2.3" fill="#00ff00"/>
<circle cx="769.3" cy="411.2" r="2.3" fill="#00ff00"/>
<circle cx="799.1" cy="415.4" r="2.3" fill="#ffa500"/>
<circle cx="797.1" cy="426.4" r="2.3" fill="#ffa500"/>
<circle cx="789.4" cy="416.4" r="2.3" fill="#0000ff"/>
<circle cx="799.7" cy="412.2" r="2.3" fill="#ffff00"/>
<circle cx="803.8" cy="420.3" r="2.3" fill="#ffff00"/>
<circle cx="781.5" cy="423.1" r="2.3" fill="#00ff00"/>
<circle cx="792.2" cy="423.3" r="2.3" fill="#ffff00"/>
<circle cx="781.4" cy="419.9" r="2.3" fill="#a020f0"/>
<circle cx="782.8" cy="419.9" r="2.3" fill="#00ff00"/>
<circle cx="779.1" cy="419.6" r="2.3" fill="#00ff00"/>
<circle cx="793.8" cy="413.2" r="2.3" fill="#ff0000"/>
<circle cx="792.4" cy="426.8" r="2.3" fill="#ffff00"/>
<circle cx="806.5" cy="420.3" r="2.3" fill="#ffff00"/>
<circle cx="778.8" cy="420.8" r="2.3" fill="#0000ff"/>
<circle cx="801.5" cy="412.5" r="2.3" fill="#ffff00"/>
<circle cx="785.3" cy="421.7" r="2.3" fill="#0000ff"/>
<circle cx="786.1" cy="410.5" r="2.3" fill="#0000ff"/>
<circle cx="786.0" cy="411.8" r="2.3" fill="#0000ff"/>
<circle cx="794.7" cy="415.1" r="2.3" fill="#ffff00"/>
<circle cx="803.1" cy="421.3" r="2.3" fill="#ffff00"/>
<circle cx="784.3" cy="417.8" r="2.3" fill="#0000ff"/>
<circle cx="772.9" cy="405.6" r="2.3" fill="#00ff00"/>
<circle cx="796.1" cy="423.9" r="2.3" fill="#ff0000"/>
<circle cx="782.0" cy="418.7" r="2.3" fill="#0000ff"/>
<circle cx="775.3" cy="415.6" r="2.3" fill="#00ff00"/>
<circle cx="784.3" cy="417.7" r="2.3" fill="#00ff00"/>
<circle cx="789.1" cy="427.0" r="2.3" fill="#00ff00"/>
<circle cx="795.7" cy="424.7" r="2.3" fill="#ff0000"/>
<circle cx="785.3" cy="417.1" r="2.3" fill="#0000ff"/>
<circle cx="793.6" cy="419.1" r="2.3" fill="#ff0000"/>
<circle cx="789.2" cy="418.6" r="2.3" fill="#0000ff"/>
<circle cx="806.4" cy="419.9" r="2.3" fill="#ffa500"/>
<circle cx="785.8" cy="418.1" r="2.3" fill="#00ff00"/>
<circle cx="798.9" cy="423.7" r="2.3" fill="#ff0000"/>
<circle cx="781.9" cy="420.8" r="2.3" fill="#00ff00"/>
<circle cx="779.9" cy="407.7" r="2.3" fill="#00ff00"/>
<circle cx="781.2" cy="417.8" r="2.3" fill="#00ff00"/>
<circle cx="791.8" cy="426.6" r="2.3" fill="#ff0000"/>
<circle cx="774.4" cy="405.7" r="2.3" fill="#00ff00"/>
<circle cx="783.3" cy="411.7" r="2.3" fill="#0000ff"/>
<circle cx="797.7" cy="424.3" r="2.3" fill="#ff0000"/>
<circle cx="797.6" cy="422.2" r="2.3" fill="#ff0000"/>
<circle cx="797.9" cy="423.1" r="2.3" fill="#ff0000"/>
<circle cx="799.1" cy="417.3" r="2.3" fill="#ffa500"/>
<circle cx="783.4" cy="417.1" r="2.3" fill="#0000ff"/>
<circle cx="778.0" cy="406.9" r="2.3" fill="#0000ff"/>
<circle cx="785.2" cy="415.1" r="2.3" fill="#00ff00"/>
<circle cx="796.4" cy="423.0" r="2.3" fill="#ff0000"/>
<circle cx="791.3" cy="414.1" r="2.3" fill="#ff0000"/>
<circle cx="806.1" cy="420.7" r="2.3" fill="#ffa500"/>
<circle cx="799.5" cy="421.9" r="2.3" fill="#ffa500"/>
<circle cx="784.6" cy="415.4" r="2.3" fill="#0000ff"/>
<circle cx="803.5" cy="420.9" r="2.3" fill="#ffff00"/>
<circle cx="804.0" cy="423.4" r="2.3" fill="#ffa500"/>
<circle cx="786.9" cy="415.6" r="2.3" fill="#0000ff"/>
<circle cx="788.2" cy="426.9" r="2.3" fill="#0000ff"/>
<circle cx="798.3" cy="424.8" r="2.3" fill="#ff0000"/>
<circle cx="777.9" cy="423.6" r="2.3" fill="#00ff00"/>
<circle cx="794.6" cy="427.5" r="2.3" fill="#ffa500"/>
<circle cx="783.9" cy="411.4" r="2.3" fill="#a020f0"/>
<circle cx="783.5" cy="412.7" r="2.3" fill="#0000ff"/>
<circle cx="800.4" cy="419.5" r="2.3" fill="#ff0000"/>
<circle cx="799.0" cy="411.9" r="2.3" fill="#ffff00"/>
<circle cx="800.7" cy="418.2" r="2.3" fill="#ff0000"/>
<circle cx="782.5" cy="410.8" r="2.3" fill="#0000ff"/>
<circle cx="771.2" cy="404.8" r="2.3" fill="#00ff00"/>
<circle cx="800.7" cy="423.3" r="2.3" fill="#ff0000"/>
<circle cx="775.5" cy="420.7" r="2.3" fill="#a020f0"/>
<circle cx="795.5" cy="419.1" r="2.3" fill="#ffa500"/>
<circle cx="795.8" cy="416.4" r="2.3" fill="#ff0000"/>
<circle cx="783.7" cy="410.0" r="2.3" fill="#0000ff"/>
<circle cx="792.4" cy="411.4" r="2.3" fill="#ffa500"/>
<circle cx="787.9" cy="412.2" r="2.3" fill="#0000ff"/>
<circle cx="797.9" cy="415.2" r="2.3" fill="#ff0000"/>
<circle cx="773.3" cy="413.5" r="2.3" fill="#00ff00"/>
<circle cx="789.1" cy="410.9" r="2.3" fill="#0000ff"/>
<circle cx="800.9" cy="422.7" r="2.3" fill="#ff0000"/>
<circle cx="793.7" cy="411.3" r="2.3" fill="#ffa500"/>
<circle cx="792.6" cy="410.2" r="2.3" fill="#ffff00"/>
<circle cx="795.3" cy="420.4" r="2.3" fill="#ffa500"/>
<circle cx="775.4" cy="419.1" r="2.3" fill="#0000ff"/>
<circle cx="775.8" cy="407.7" r="2.3" fill="#00ff00"/>
<circle cx="779.6" cy="418.6" r="2.3" fill="#0000ff"/>
<circle cx="802.3" cy="421.1" r="2.3" fill="#ff0000"/>
<circle cx="780.8" cy="411.9" r="2.3" fill="#00ff00"/>
<circle cx="805.3" cy="420.8" r="2.3" fill="#ff0000"/>
<circle cx="805.4" cy="422.5" r="2.3" fill="#ffff00"/>
<circle cx="796.4" cy="422.3" r="2.3" fill="#ffa500"/>
<circle cx="779.1" cy="405.9" r="2.3" fill="#00ff00"/>
<circle cx="793.1" cy="417.0" r="2.3" fill="#ff0000"/>
<circle cx="772.5" cy="419.9" r="2.3" fill="#a020f0"/>
<circle cx="786.1" cy="426.7" r="2.3" fill="#0000ff"/>
<circle cx="792.0" cy="418.8" r="2.3" fill="#ffa500"/>
<circle cx="791.6" cy="415.6" r="2.3" fill="#ff0000"/>
<circle cx="795.6" cy="412.5" r="2.3" fill="#ffa500"/>
<circle cx="794.7" cy="421.5" r="2.3" fill="#ff0000"/>
<circle cx="797.7" cy="415.7" r="2.3" fill="#ffa500"/>
<circle cx="796.5" cy="417.6" r="2.3" fill="#ffa500"/>
<circle cx="795.5" cy="415.7" r="2.3" fill="#ff0000"/>
<circle cx="799.0" cy="417.0" r="2.3" fill="#ffff00"/>
<circle cx="780.1" cy="418.4" r="2.3" fill="#a020f0"/>
<circle cx="801.7" cy="420.2" r="2.3" fill="#ffff00"/>
<circle cx="785.3" cy="426.7" r="2.3" fill="#0000ff"/>
<circle cx="780.2" cy="413.0" r="2.3" fill="#0000ff"/>
<circle cx="783.7" cy="426.7" r="2.3" fill="#0000ff"/>
<circle cx="786.9" cy="421.4" r="2.3" fill="#0000ff"/>
<circle cx="785.4" cy="426.7" r="2.3" fill="#0000ff"/>
<circle cx="789.4" cy="426.3" r="2.3" fill="#0000ff"/>
<circle cx="771.5" cy="418.3" r="2.3" fill="#a020f0"/>
<circle cx="787.6" cy="404.8" r="2.3" fill="#00ff00"/>
<circle cx="795.1" cy="415.0" r="2.3" fill="#ff0000"/>
<circle cx="781.1" cy="418.7" r="2.3" fill="#0000ff"/>
<circle cx="777.1" cy="411.6" r="2.3" fill="#0000ff"/>
<circle cx="773.9" cy="405.8" r="2.3" fill="#00ff00"/>
<circle cx="794.2" cy="426.2" r="2.3" fill="#ffff00"/>
<circle cx="786.1" cy="413.8" r="2.3" fill="#0000ff"/>
<circle cx="772.7" cy="414.1" r="2.3" fill="#00ff00"/>
<circle cx="783.7" cy="417.8" r="2.3" fill="#0000ff"/>
<circle cx="788.9" cy="408.3" r="2.3" fill="#a020f0"/>
<circle cx="801.3" cy="414.9" r="2.3" fill="#ff0000"/>
<circle cx="778.2" cy="421.6" r="2.3" fill="#a020f0"/>
<circle cx="798.4" cy="412.4" r="2.3" fill="#ffa500"/>
<circle cx="775.3" cy="420.8" r="2.3" fill="#0000ff"/>
<circle cx="788.5" cy="423.7" r="2.3" fill="#0000ff"/>
<circle cx="783.4" cy="423.0" r="2.3" fill="#0000ff"/>
<circle cx="786.3" cy="409.8" r="2.3" fill="#a020f0"/>
<circle cx="791.6" cy="417.1" r="2.3" fill="#ffa500"/>
<circle cx="791.9" cy="418.3" r="2.3" fill="#ffa500"/>
<circle cx="795.5" cy="420.0" r="2.3" fill="#ff0000"/>
<circle cx="798.5" cy="426.7" r="2.3" fill="#ff0000"/>
<circle cx="770.2" cy="405.0" r="2.3" fill="#00ff00"/>
<circle cx="797.7" cy="419.5" r="2.3" fill="#ffa500"/>
<circle cx="804.2" cy="421.4" r="2.3" fill="#ffff00"/>
<circle cx="795.3" cy="411.3" r="2.3" fill="#ff0000"/>
<circle cx="799.3" cy="412.6" r="2.3" fill="#ffff00"/>
<circle cx="788.8" cy="422.3" r="2.3" fill="#0000ff"/>
<circle cx="794.3" cy="412.4" r="2.3" fill="#ff0000"/>
<circle cx="802.7" cy="414.0" r="2.3" fill="#ff0000"/>
<circle cx="804.1" cy="423.2" r="2.3" fill="#ffff00"/>
<circle cx="791.3" cy="425.1" r="2.3" fill="#ffa500"/>
<circle cx="799.9" cy="411.9" r="2.3" fill="#ff0000"/>
<circle cx="787.2" cy="416.4" r="2.3" fill="#0000ff"/>
<circle cx="804.9" cy="417.0" r="2.3" fill="#ffa500"/>
<circle cx="779.8" cy="419.2" r="2.3" fill="#00ff00"/>
<circle cx="791.7" cy="416.9" r="2.3" fill="#ff0000"/>
<circle cx="800.8" cy="415.8" r="2.3" fill="#ffa500"/>
<circle cx="788.9" cy="420.7" r="2.3" fill="#a020f0"/>
<circle cx="788.3" cy="411.8" r="2.3" fill="#00ff00"/>
<circle cx="792.9" cy="424.6" r="2.3" fill="#ff0000"/>
<circle cx="804.4" cy="419.3" r="2.3" fill="#ffa500"/>
<circle cx="775.7" cy="405.0" r="2.3" fill="#00ff00"/>
<circle cx="804.5" cy="414.0" r="2.3" fill="#ffa500"/>
<circle cx="780.6" cy="410.7" r="2.3" fill="#00ff00"/>
<circle cx="770.6" cy="410.8" r="2.3" fill="#0000ff"/>
<circle cx="794.6" cy="411.1" r="2.3" fill="#ff0000"/>
<circle cx="793.4" cy="418.0" r="2.3" fill="#ffa500"/>
<circle cx="798.1" cy="416.8" r="2.3" fill="#ffff00"/>
<circle cx="803.4" cy="422.2" r="2.3" fill="#ff0000"/>
<circle cx="800.4" cy="417.0" r="2.3" fill="#ff0000"/>
<circle cx="787.6" cy="419.0" r="2.3" fill="#a020f0"/>
<circle cx="784.4" cy="410.4" r="2.3" fill="#0000ff"/>
<circle cx="799.1" cy="421.2" r="2.3" fill="#ffff00"/>
<circle cx="789.6" cy="411.9" r="2.3" fill="#0000ff"/>
<circle cx="777.3" cy="410.9" r="2.3" fill="#a020f0"/>
<circle cx="805.3" cy="416.2" r="2.3" fill="#ffa500"/>
<circle cx="779.7" cy="419.3" r="2.3" fill="#00ff00"/>
<circle cx="776.0" cy="411.8" r="2.3" fill="#00ff00"/>
<circle cx="774.3" cy="416.9" r="2.3" fill="#0000ff"/>
<circle cx="777.9" cy="420.8" r="2.3" fill="#a020f0"/>
<circle cx="802.1" cy="416.3" r="2.3" fill="#ffa500"/>
<circle cx="797.1" cy="426.3" r="2.3" fill="#ff0000"/>
<circle cx="780.5" cy="424.2" r="2.3" fill="#0000ff"/>
<circle cx="779.2" cy="411.8" r="2.3" fill="#0000ff"/>
<circle cx="787.1" cy="412.9" r="2.3" fill="#0000ff"/>
<circle cx="780.2" cy="418.1" r="2.3" fill="#00ff00"/>
<circle cx="780.8" cy="411.6" r="2.3" fill="#a020f0"/>
<circle cx="797.4" cy="415.9" r="2.3" fill="#ffff00"/>
<circle cx="794.3" cy="414.0" r="2.3" fill="#ffa500"/>
<circle cx="803.8" cy="419.6" r="2.3" fill="#ffa500"/>
<circle cx="782.9" cy="415.1" r="2.3" fill="#a020f0"/>
<circle cx="795.9" cy="421.7" r="2.3" fill="#ff0000"/>
<circle cx="793.9" cy="415.6" r="2.3" fill="#ff0000"/>
<circle cx="801.8" cy="420.3" r="2.3" fill="#ffff00"/>
<circle cx="779.4" cy="407.6" r="2.3" fill="#00ff00"/>
<circle cx="805.2" cy="415.4" r="2.3" fill="#ffa500"/>
<circle cx="769.3" cy="411.6" r="2.3" fill="#0000ff"/>
<circle cx="804.2" cy="419.4" r="2.3" fill="#ff0000"/>
<circle cx="804.5" cy="417.4" r="2.3" fill="#ffff00"/>
<circle cx="771.2" cy="414.2" r="2.3" fill="#a020f0"/>
<circle cx="783.3" cy="425.2" r="2.3" fill="#0000ff"/>
<circle cx="791.8" cy="412.9" r="2.3" fill="#ffff00"/>
<circle cx="770.8" cy="407.7" r="2.3" fill="#00ff00"/>
<circle cx="775.5" cy="417.9" r="2.3" fill="#00ff00"/>
<circle cx="781.2" cy="424.8" r="2.3" fill="#0000ff"/>
<circle cx="782.9" cy="424.8" r="2.3" fill="#a020f0"/>
<circle cx="800.4" cy="418.7" r="2.3" fill="#ffa500"/>
<circle cx="773.9" cy="412.1" r="2.3" fill="#00ff00"/>
<circle cx="780.9" cy="415.5" r="2.3" fill="#a020f0"/>
<circle cx="798.2" cy="417.4" r="2.3" fill="#ff0000"/>
<circle cx="772.6" cy="413.9" r="2.3" fill="#a020f0"/>
<circle cx="800.1" cy="419.6" r="2.3" fill="#ff0000"/>
<circle cx="779.7" cy="415.6" r="2.3" fill="#00ff00"/>
<circle cx="804.5" cy="416.6" r="2.3" fill="#ffff00"/>
<circle cx="785.1" cy="405.4" r="2.3" fill="#0000ff"/>
<circle cx="778.6" cy="420.7" r="2.3" fill="#0000ff"/>
<circle cx="794.4" cy="419.9" r="2.3" fill="#ff0000"/>
<circle cx="787.4" cy="426.2" r="2.3" fill="#0000ff"/>
<circle cx="777.6" cy="410.7" r="2.3" fill="#00ff00"/>
<circle cx="787.2" cy="415.0" r="2.3" fill="#0000ff"/>
<circle cx="799.6" cy="420.6" r="2.3" fill="#ffa500"/>
<circle cx="800.2" cy="412.4" r="2.3" fill="#ffff00"/>
<circle cx="797.1" cy="413.0" r="2.3" fill="#ffa500"/>
<circle cx="782.1" cy="418.7" r="2.3" fill="#0000ff"/>
<circle cx="779.1" cy="424.7" r="2.3" fill="#00ff00"/>
<circle cx="799.6" cy="412.9" r="2.3" fill="#ffa500"/>
<circle cx="796.0" cy="419.9" r="2.3" fill="#ff0000"/>
<circle cx="785.5" cy="421.4" r="2.3" fill="#0000ff"/>
<circle cx="786.0" cy="423.2" r="2.3" fill="#0000ff"/>
<circle cx="775.3" cy="417.0" r="2.3" fill="#00ff00"/>
<circle cx="783.4" cy="425.6" r="2.3" fill="#0000ff"/>
<circle cx="781.2" cy="418.5" r="2.3" fill="#00ff00"/>
<circle cx="795.6" cy="413.3" r="2.3" fill="#ffa500"/>
<circle cx="797.7" cy="420.7" r="2.3" fill="#ffa500"/>
<circle cx="788.0" cy="413.4" r="2.3" fill="#0000ff"/>
<circle cx="796.3" cy="427.1" r="2.3" fill="#ffa500"/>
<circle cx="774.2" cy="413.0" r="2.3" fill="#a020f0"/>
<circle cx="774.2" cy="413.9" r="2.3" fill="#a020f0"/>
<circle cx="795.1" cy="412.5" r="2.3" fill="#ff0000"/>
<circle cx="779.4" cy="424.3" r="2.3" fill="#00ff00"/>
<circle cx="779.8" cy="421.2" r="2.3" fill="#00ff00"/>
<circle cx="798.7" cy="411.0" r="2.3" fill="#ff0000"/>
<circle cx="785.1" cy="423.2" r="2.3" fill="#00ff00"/>
<circle cx="795.7" cy="422.2" r="2.3" fill="#ff0000"/>
<circle cx="796.0" cy="412.5" r="2.3" fill="#ff0000"/>
<circle cx="802.3" cy="414.0" r="2.3" fill="#ff0000"/>
<circle cx="801.5" cy="414.0" r="2.3" fill="#ffa500"/>
<circle cx="783.2" cy="414.3" r="2.3" fill="#00ff00"/>
<circle cx="801.1" cy="425.8" r="2.3" fill="#ff0000"/>
<circle cx="798.0" cy="421.8" r="2.3" fill="#ff0000"/>
<circle cx="794.0" cy="421.3" r="2.3" fill="#ffa500"/>
<circle cx="799.2" cy="416.6" r="2.3" fill="#ffff00"/>
<circle cx="786.9" cy="423.0" r="2.3" fill="#0000ff"/>
<circle cx="784.0" cy="413.9" r="2.3" fill="#0000ff"/>
<circle cx="793.8" cy="420.8" r="2.3" fill="#ff0000"/>
<circle cx="803.1" cy="412.9" r="2.3" fill="#ffa500"/>
<circle cx="782.0" cy="412.0" r="2.3" fill="#00ff00"/>
<circle cx="583.3" cy="290.5" r="2.3" fill="#00ff00"/>
<circle cx="772.0" cy="269.6" r="2.3" fill="#a020f0"/>
<circle cx="749.2" cy="277.5" r="2.3" fill="#00ff00"/>
<circle cx="767.6" cy="306.0" r="2.3" fill="#00ff00"/>
<circle cx="754.3" cy="321.7" r="2.3" fill="#00ff00"/>
<circle cx="764.8" cy="350.7" r="2.3" fill="#00ff00"/>
<circle cx="759.3" cy="354.8" r="2.3" fill="#00ff00"/>
<circle cx="773.8" cy="364.3" r="2.3" fill="#a020f0"/>
<circle cx="784.5" cy="368.7" r="2.3" fill="#0000ff"/>
<circle cx="788.0" cy="374.4" r="2.3" fill="#0000ff"/>
<circle cx="760.0" cy="377.5" r="2.3" fill="#00ff00"/>
<circle cx="769.1" cy="382.9" r="2.3" fill="#a020f0"/>
<circle cx="786.7" cy="385.2" r="2.3" fill="#0000ff"/>
<circle cx="774.4" cy="387.8" r="2.3" fill="#00ff00"/>
<circle cx="777.2" cy="390.7" r="2.3" fill="#a020f0"/>
<circle cx="769.5" cy="394.0" r="2.3" fill="#00ff00"/>
<circle cx="773.5" cy="394.4" r="2.3" fill="#00ff00"/>
<circle cx="786.0" cy="396.8" r="2.3" fill="#00ff00"/>
<circle cx="774.8" cy="398.2" r="2.3" fill="#00ff00"/>
<circle cx="707.4" cy="413.6" r="2.3" fill="#00ff00"/>
<circle cx="716.9" cy="418.9" r="2.3" fill="#00ff00"/>
<circle cx="755.4" cy="421.5" r="2.3" fill="#a020f0"/>
<circle cx="820.6" cy="74.5" r="2.3" fill="#ffa500"/>
<circle cx="814.9" cy="299.3" r="2.3" fill="#ffa500"/>
<circle cx="965.5" cy="314.4" r="2.3" fill="#ffff00"/>
<circle cx="912.3" cy="397.9" r="2.3" fill="#ffff00"/>
<circle cx="993.7" cy="400.2" r="2.3" fill="#ffff00"/>
<circle cx="834.9" cy="370.6" r="2.3" fill="#ffa500"/>
<circle cx="819.5" cy="373.2" r="2.3" fill="#ffa500"/>
<circle cx="820.4" cy="374.1" r="2.3" fill="#ffa500"/>
<circle cx="818.2" cy="380.9" r="2.3" fill="#ffff00"/>
<circle cx="804.8" cy="382.3" r="2.3" fill="#ffa500"/>
<circle cx="795.7" cy="384.2" r="2.3" fill="#ffa500"/>
<circle cx="828.7" cy="384.3" r="2.3" fill="#ffa500"/>
<circle cx="830.5" cy="384.3" r="2.3" fill="#ffff00"/>
<circle cx="821.0" cy="391.5" r="2.3" fill="#ffff00"/>
<circle cx="808.3" cy="392.6" r="2.3" fill="#ffa500"/>
<circle cx="797.0" cy="392.6" r="2.3" fill="#ff0000"/>
<circle cx="800.0" cy="394.2" r="2.3" fill="#ff0000"/>
<circle cx="840.2" cy="395.1" r="2.3" fill="#ffa500"/>
<circle cx="823.0" cy="399.2" r="2.3" fill="#ffa500"/>
<circle cx="838.4" cy="399.5" r="2.3" fill="#ffff00"/>
<circle cx="810.9" cy="403.4" r="2.3" fill="#ff0000"/>
<circle cx="803.4" cy="403.6" r="2.3" fill="#ff0000"/>
<circle cx="804.8" cy="403.9" r="2.3" fill="#ff0000"/>
<circle cx="797.0" cy="404.5" r="2.3" fill="#ffa500"/>
<circle cx="813.3" cy="409.1" r="2.3" fill="#ff0000"/>
<circle cx="815.5" cy="409.6" r="2.3" fill="#ffff00"/>
<circle cx="833.4" cy="411.8" r="2.3" fill="#ffff00"/>
<circle cx="819.1" cy="412.2" r="2.3" fill="#ffa500"/>
<circle cx="810.0" cy="412.6" r="2.3" fill="#ffa500"/>
<circle cx="812.2" cy="415.5" r="2.3" fill="#ff0000"/>
<circle cx="816.7" cy="415.7" r="2.3" fill="#ffa500"/>
<circle cx="854.3" cy="417.3" r="2.3" fill="#ffff00"/>
<circle cx="839.3" cy="419.9" r="2.3" fill="#ffff00"/>
<circle cx="831.6" cy="421.9" r="2.3" fill="#ffa500"/>
<circle cx="807.2" cy="419.2" r="2.3" fill="#ff0000"/>
</g>
<path d="M563.0 401.48H1014.3" stroke="#000" stroke-width="1.45"/>
<text class="k" font-size="10" x="653.6" y="523.6">trajectory</text>
<rect x="700.4" y="505.0" width="14.2" height="14.2" fill="#f2f2f2"/>
<circle cx="707.5" cy="512.2" r="2.2" fill="#ffff00" fill-opacity="0.6"/>
<text class="k" font-size="8.15" x="720.0" y="515.0">increase_−_−</text>
<rect x="700.4" y="520.6" width="14.2" height="14.2" fill="#f2f2f2"/>
<circle cx="707.5" cy="527.8" r="2.2" fill="#ff0000" fill-opacity="0.6"/>
<text class="k" font-size="8.15" x="720.0" y="530.6">increase_−_+</text>
<rect x="775.2" y="505.0" width="14.2" height="14.2" fill="#f2f2f2"/>
<circle cx="782.3" cy="512.2" r="2.2" fill="#ffa500" fill-opacity="0.6"/>
<text class="k" font-size="8.15" x="794.7" y="515.0">increase_+_+</text>
<rect x="775.2" y="520.6" width="14.2" height="14.2" fill="#f2f2f2"/>
<circle cx="782.3" cy="527.8" r="2.2" fill="#00ff00" fill-opacity="0.6"/>
<text class="k" font-size="8.15" x="794.7" y="530.6">decrease_+_+</text>
<rect x="852.4" y="505.0" width="14.2" height="14.2" fill="#f2f2f2"/>
<circle cx="859.5" cy="512.2" r="2.2" fill="#0000ff" fill-opacity="0.6"/>
<text class="k" font-size="8.15" x="871.6" y="515.0">decrease_+_−</text>
<rect x="852.4" y="520.6" width="14.2" height="14.2" fill="#f2f2f2"/>
<circle cx="859.5" cy="527.8" r="2.2" fill="#a020f0" fill-opacity="0.6"/>
<text class="k" font-size="8.15" x="871.6" y="530.6">decrease_−_−</text>
</g>
</svg></body></html>
